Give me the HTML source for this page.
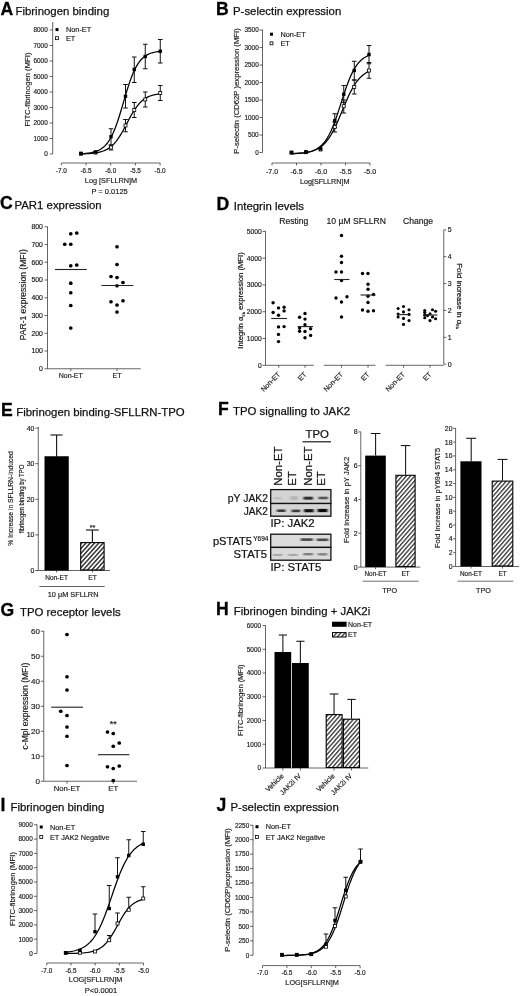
<!DOCTYPE html>
<html><head><meta charset="utf-8"><title>Figure</title><style>html,body{margin:0;padding:0;background:#fff}svg{display:block;filter:blur(0.4px)}</style></head><body>
<svg width="520" height="996" viewBox="0 0 520 996" font-family="Liberation Sans, Arial, sans-serif">
<defs><pattern id="hatch" width="3.2" height="3.2" patternUnits="userSpaceOnUse" patternTransform="rotate(-48)"><rect width="3.2" height="3.2" fill="#fff"/><line x1="0" y1="1.6" x2="3.2" y2="1.6" stroke="#000" stroke-width="1.2"/></pattern><pattern id="hatch2" width="3.15" height="3.15" patternUnits="userSpaceOnUse" patternTransform="rotate(-49)"><rect width="3.15" height="3.15" fill="#fff"/><line x1="0" y1="1.5" x2="3.15" y2="1.5" stroke="#000" stroke-width="1.05"/></pattern><filter id="blur" x="-20%" y="-50%" width="140%" height="200%"><feGaussianBlur stdDeviation="1.2 0.7"/></filter></defs>
<rect width="520" height="996" fill="#fff"/>
<text x="0.60" y="14.50" font-size="17.6" text-anchor="start" font-weight="bold" fill="#000" stroke="#000" stroke-width="0.3">A</text>
<text x="15.50" y="14.50" font-size="11.4" text-anchor="start" font-weight="normal" fill="#111" stroke="#111" stroke-width="0.25">Fibrinogen binding</text>
<line x1="52.70" y1="22.00" x2="52.70" y2="154.00" stroke="#333" stroke-width="0.75"/>
<line x1="49.70" y1="154.00" x2="52.70" y2="154.00" stroke="#333" stroke-width="0.75"/>
<text x="47.70" y="156.30" font-size="6.4" text-anchor="end" font-weight="normal" fill="#1a1a1a" stroke="#1a1a1a" stroke-width="0.17">0</text>
<line x1="49.70" y1="138.50" x2="52.70" y2="138.50" stroke="#333" stroke-width="0.75"/>
<text x="47.70" y="140.80" font-size="6.4" text-anchor="end" font-weight="normal" fill="#1a1a1a" stroke="#1a1a1a" stroke-width="0.17">1000</text>
<line x1="49.70" y1="123.00" x2="52.70" y2="123.00" stroke="#333" stroke-width="0.75"/>
<text x="47.70" y="125.30" font-size="6.4" text-anchor="end" font-weight="normal" fill="#1a1a1a" stroke="#1a1a1a" stroke-width="0.17">2000</text>
<line x1="49.70" y1="107.50" x2="52.70" y2="107.50" stroke="#333" stroke-width="0.75"/>
<text x="47.70" y="109.80" font-size="6.4" text-anchor="end" font-weight="normal" fill="#1a1a1a" stroke="#1a1a1a" stroke-width="0.17">3000</text>
<line x1="49.70" y1="92.00" x2="52.70" y2="92.00" stroke="#333" stroke-width="0.75"/>
<text x="47.70" y="94.30" font-size="6.4" text-anchor="end" font-weight="normal" fill="#1a1a1a" stroke="#1a1a1a" stroke-width="0.17">4000</text>
<line x1="49.70" y1="76.50" x2="52.70" y2="76.50" stroke="#333" stroke-width="0.75"/>
<text x="47.70" y="78.80" font-size="6.4" text-anchor="end" font-weight="normal" fill="#1a1a1a" stroke="#1a1a1a" stroke-width="0.17">5000</text>
<line x1="49.70" y1="61.00" x2="52.70" y2="61.00" stroke="#333" stroke-width="0.75"/>
<text x="47.70" y="63.30" font-size="6.4" text-anchor="end" font-weight="normal" fill="#1a1a1a" stroke="#1a1a1a" stroke-width="0.17">6000</text>
<line x1="49.70" y1="45.50" x2="52.70" y2="45.50" stroke="#333" stroke-width="0.75"/>
<text x="47.70" y="47.80" font-size="6.4" text-anchor="end" font-weight="normal" fill="#1a1a1a" stroke="#1a1a1a" stroke-width="0.17">7000</text>
<line x1="49.70" y1="30.00" x2="52.70" y2="30.00" stroke="#333" stroke-width="0.75"/>
<text x="47.70" y="32.30" font-size="6.4" text-anchor="end" font-weight="normal" fill="#1a1a1a" stroke="#1a1a1a" stroke-width="0.17">8000</text>
<line x1="61.30" y1="163.00" x2="160.10" y2="163.00" stroke="#333" stroke-width="0.75"/>
<line x1="61.30" y1="163.00" x2="61.30" y2="165.50" stroke="#333" stroke-width="0.75"/>
<text x="61.30" y="172.80" font-size="6.4" text-anchor="middle" font-weight="normal" fill="#1a1a1a" stroke="#1a1a1a" stroke-width="0.17">-7.0</text>
<line x1="86.00" y1="163.00" x2="86.00" y2="165.50" stroke="#333" stroke-width="0.75"/>
<text x="86.00" y="172.80" font-size="6.4" text-anchor="middle" font-weight="normal" fill="#1a1a1a" stroke="#1a1a1a" stroke-width="0.17">-6.5</text>
<line x1="110.70" y1="163.00" x2="110.70" y2="165.50" stroke="#333" stroke-width="0.75"/>
<text x="110.70" y="172.80" font-size="6.4" text-anchor="middle" font-weight="normal" fill="#1a1a1a" stroke="#1a1a1a" stroke-width="0.17">-6.0</text>
<line x1="135.40" y1="163.00" x2="135.40" y2="165.50" stroke="#333" stroke-width="0.75"/>
<text x="135.40" y="172.80" font-size="6.4" text-anchor="middle" font-weight="normal" fill="#1a1a1a" stroke="#1a1a1a" stroke-width="0.17">-5.5</text>
<line x1="160.10" y1="163.00" x2="160.10" y2="165.50" stroke="#333" stroke-width="0.75"/>
<text x="160.10" y="172.80" font-size="6.4" text-anchor="middle" font-weight="normal" fill="#1a1a1a" stroke="#1a1a1a" stroke-width="0.17">-5.0</text>
<text x="111.00" y="183.00" font-size="7.3" text-anchor="middle" font-weight="normal" fill="#1a1a1a" stroke="#1a1a1a" stroke-width="0.17">Log [SFLLRN]M</text>
<text x="109.60" y="194.00" font-size="7.5" text-anchor="middle" font-weight="normal" fill="#1a1a1a" stroke="#1a1a1a" stroke-width="0.17">P = 0.0125</text>
<text x="30.20" y="89.50" font-size="7.7" text-anchor="middle" font-weight="normal" fill="#1a1a1a" stroke="#1a1a1a" stroke-width="0.17" transform="rotate(-90 30.20 89.50)">FITC-fibrinogen (MFI)</text>
<path d="M81.00,153.63 L83.03,153.52 L85.06,153.37 L87.10,153.17 L89.13,152.92 L91.16,152.59 L93.19,152.17 L95.22,151.61 L97.26,150.89 L99.29,149.97 L101.32,148.79 L103.35,147.28 L105.38,145.38 L107.42,143.00 L109.45,140.06 L111.48,136.48 L113.51,132.20 L115.54,127.21 L117.58,121.53 L119.61,115.25 L121.64,108.54 L123.67,101.61 L125.71,94.69 L127.74,88.05 L129.77,81.87 L131.80,76.31 L133.83,71.45 L135.87,67.31 L137.90,63.86 L139.93,61.03 L141.96,58.74 L143.99,56.92 L146.03,55.48 L148.06,54.35 L150.09,53.47 L152.12,52.78 L154.15,52.25 L156.19,51.85 L158.22,51.53 L160.25,51.29" fill="none" stroke="#000" stroke-width="1.25" stroke-linejoin="round"/>
<path d="M81.00,153.90 L83.03,153.84 L85.06,153.77 L87.10,153.68 L89.13,153.55 L91.16,153.40 L93.19,153.20 L95.22,152.94 L97.26,152.62 L99.29,152.20 L101.32,151.68 L103.35,151.01 L105.38,150.17 L107.42,149.13 L109.45,147.84 L111.48,146.26 L113.51,144.35 L115.54,142.09 L117.58,139.44 L119.61,136.43 L121.64,133.07 L123.67,129.43 L125.71,125.61 L127.74,121.73 L129.77,117.89 L131.80,114.23 L133.83,110.84 L135.87,107.79 L137.90,105.10 L139.93,102.80 L141.96,100.85 L143.99,99.24 L146.03,97.92 L148.06,96.85 L150.09,95.99 L152.12,95.31 L154.15,94.77 L156.19,94.35 L158.22,94.01 L160.25,93.75" fill="none" stroke="#000" stroke-width="1.25" stroke-linejoin="round"/>
<line x1="111.00" y1="145.00" x2="111.00" y2="150.00" stroke="#111" stroke-width="1.0"/>
<line x1="108.70" y1="145.00" x2="113.30" y2="145.00" stroke="#111" stroke-width="1.0"/>
<line x1="108.70" y1="150.00" x2="113.30" y2="150.00" stroke="#111" stroke-width="1.0"/>
<line x1="125.50" y1="119.50" x2="125.50" y2="131.75" stroke="#111" stroke-width="1.0"/>
<line x1="123.20" y1="119.50" x2="127.80" y2="119.50" stroke="#111" stroke-width="1.0"/>
<line x1="123.20" y1="131.75" x2="127.80" y2="131.75" stroke="#111" stroke-width="1.0"/>
<line x1="134.25" y1="102.50" x2="134.25" y2="117.50" stroke="#111" stroke-width="1.0"/>
<line x1="131.95" y1="102.50" x2="136.55" y2="102.50" stroke="#111" stroke-width="1.0"/>
<line x1="131.95" y1="117.50" x2="136.55" y2="117.50" stroke="#111" stroke-width="1.0"/>
<line x1="145.25" y1="92.00" x2="145.25" y2="107.00" stroke="#111" stroke-width="1.0"/>
<line x1="142.95" y1="92.00" x2="147.55" y2="92.00" stroke="#111" stroke-width="1.0"/>
<line x1="142.95" y1="107.00" x2="147.55" y2="107.00" stroke="#111" stroke-width="1.0"/>
<line x1="160.25" y1="85.50" x2="160.25" y2="100.50" stroke="#111" stroke-width="1.0"/>
<line x1="157.95" y1="85.50" x2="162.55" y2="85.50" stroke="#111" stroke-width="1.0"/>
<line x1="157.95" y1="100.50" x2="162.55" y2="100.50" stroke="#111" stroke-width="1.0"/>
<line x1="111.00" y1="128.75" x2="111.00" y2="145.00" stroke="#111" stroke-width="1.0"/>
<line x1="108.70" y1="128.75" x2="113.30" y2="128.75" stroke="#111" stroke-width="1.0"/>
<line x1="108.70" y1="145.00" x2="113.30" y2="145.00" stroke="#111" stroke-width="1.0"/>
<line x1="125.50" y1="84.50" x2="125.50" y2="108.00" stroke="#111" stroke-width="1.0"/>
<line x1="123.20" y1="84.50" x2="127.80" y2="84.50" stroke="#111" stroke-width="1.0"/>
<line x1="123.20" y1="108.00" x2="127.80" y2="108.00" stroke="#111" stroke-width="1.0"/>
<line x1="134.25" y1="57.00" x2="134.25" y2="82.50" stroke="#111" stroke-width="1.0"/>
<line x1="131.95" y1="57.00" x2="136.55" y2="57.00" stroke="#111" stroke-width="1.0"/>
<line x1="131.95" y1="82.50" x2="136.55" y2="82.50" stroke="#111" stroke-width="1.0"/>
<line x1="145.25" y1="44.25" x2="145.25" y2="68.75" stroke="#111" stroke-width="1.0"/>
<line x1="142.95" y1="44.25" x2="147.55" y2="44.25" stroke="#111" stroke-width="1.0"/>
<line x1="142.95" y1="68.75" x2="147.55" y2="68.75" stroke="#111" stroke-width="1.0"/>
<line x1="160.25" y1="39.50" x2="160.25" y2="63.00" stroke="#111" stroke-width="1.0"/>
<line x1="157.95" y1="39.50" x2="162.55" y2="39.50" stroke="#111" stroke-width="1.0"/>
<line x1="157.95" y1="63.00" x2="162.55" y2="63.00" stroke="#111" stroke-width="1.0"/>
<rect x="79.50" y="152.20" width="3.00" height="3.00" fill="#fff" stroke="#000" stroke-width="0.8"/>
<rect x="94.00" y="151.10" width="3.00" height="3.00" fill="#fff" stroke="#000" stroke-width="0.8"/>
<rect x="109.50" y="146.00" width="3.00" height="3.00" fill="#fff" stroke="#000" stroke-width="0.8"/>
<rect x="124.00" y="124.00" width="3.00" height="3.00" fill="#fff" stroke="#000" stroke-width="0.8"/>
<rect x="132.75" y="108.50" width="3.00" height="3.00" fill="#fff" stroke="#000" stroke-width="0.8"/>
<rect x="143.75" y="98.00" width="3.00" height="3.00" fill="#fff" stroke="#000" stroke-width="0.8"/>
<rect x="158.75" y="91.50" width="3.00" height="3.00" fill="#fff" stroke="#000" stroke-width="0.8"/>
<rect x="79.30" y="151.80" width="3.40" height="3.40" fill="#000" stroke="none" stroke-width="0.8"/>
<rect x="93.80" y="150.30" width="3.40" height="3.40" fill="#000" stroke="none" stroke-width="0.8"/>
<rect x="109.30" y="135.05" width="3.40" height="3.40" fill="#000" stroke="none" stroke-width="0.8"/>
<rect x="123.80" y="94.55" width="3.40" height="3.40" fill="#000" stroke="none" stroke-width="0.8"/>
<rect x="132.55" y="67.80" width="3.40" height="3.40" fill="#000" stroke="none" stroke-width="0.8"/>
<rect x="143.55" y="54.80" width="3.40" height="3.40" fill="#000" stroke="none" stroke-width="0.8"/>
<rect x="158.55" y="49.55" width="3.40" height="3.40" fill="#000" stroke="none" stroke-width="0.8"/>
<rect x="55.50" y="28.10" width="3.00" height="3.00" fill="#000" stroke="none" stroke-width="0.8"/>
<text x="66.00" y="32.10" font-size="7.3" text-anchor="start" font-weight="normal" fill="#1a1a1a" stroke="#1a1a1a" stroke-width="0.17">Non-ET</text>
<rect x="55.55" y="36.75" width="2.90" height="2.90" fill="#fff" stroke="#000" stroke-width="0.8"/>
<text x="66.00" y="40.70" font-size="7.3" text-anchor="start" font-weight="normal" fill="#1a1a1a" stroke="#1a1a1a" stroke-width="0.17">ET</text>
<text x="216.10" y="14.50" font-size="17.6" text-anchor="start" font-weight="bold" fill="#000" stroke="#000" stroke-width="0.3">B</text>
<text x="233.00" y="14.50" font-size="11.4" text-anchor="start" font-weight="normal" fill="#111" stroke="#111" stroke-width="0.25">P-selectin expression</text>
<line x1="262.50" y1="29.70" x2="262.50" y2="152.50" stroke="#333" stroke-width="0.75"/>
<line x1="259.50" y1="152.50" x2="262.50" y2="152.50" stroke="#333" stroke-width="0.75"/>
<text x="258.70" y="154.80" font-size="6.4" text-anchor="end" font-weight="normal" fill="#1a1a1a" stroke="#1a1a1a" stroke-width="0.17">0</text>
<line x1="259.50" y1="135.00" x2="262.50" y2="135.00" stroke="#333" stroke-width="0.75"/>
<text x="258.70" y="137.30" font-size="6.4" text-anchor="end" font-weight="normal" fill="#1a1a1a" stroke="#1a1a1a" stroke-width="0.17">500</text>
<line x1="259.50" y1="117.50" x2="262.50" y2="117.50" stroke="#333" stroke-width="0.75"/>
<text x="258.70" y="119.80" font-size="6.4" text-anchor="end" font-weight="normal" fill="#1a1a1a" stroke="#1a1a1a" stroke-width="0.17">1000</text>
<line x1="259.50" y1="100.00" x2="262.50" y2="100.00" stroke="#333" stroke-width="0.75"/>
<text x="258.70" y="102.30" font-size="6.4" text-anchor="end" font-weight="normal" fill="#1a1a1a" stroke="#1a1a1a" stroke-width="0.17">1500</text>
<line x1="259.50" y1="82.50" x2="262.50" y2="82.50" stroke="#333" stroke-width="0.75"/>
<text x="258.70" y="84.80" font-size="6.4" text-anchor="end" font-weight="normal" fill="#1a1a1a" stroke="#1a1a1a" stroke-width="0.17">2000</text>
<line x1="259.50" y1="65.00" x2="262.50" y2="65.00" stroke="#333" stroke-width="0.75"/>
<text x="258.70" y="67.30" font-size="6.4" text-anchor="end" font-weight="normal" fill="#1a1a1a" stroke="#1a1a1a" stroke-width="0.17">2500</text>
<line x1="259.50" y1="47.50" x2="262.50" y2="47.50" stroke="#333" stroke-width="0.75"/>
<text x="258.70" y="49.80" font-size="6.4" text-anchor="end" font-weight="normal" fill="#1a1a1a" stroke="#1a1a1a" stroke-width="0.17">3000</text>
<line x1="259.50" y1="30.00" x2="262.50" y2="30.00" stroke="#333" stroke-width="0.75"/>
<text x="258.70" y="32.30" font-size="6.4" text-anchor="end" font-weight="normal" fill="#1a1a1a" stroke="#1a1a1a" stroke-width="0.17">3500</text>
<line x1="272.00" y1="163.00" x2="370.00" y2="163.00" stroke="#333" stroke-width="0.75"/>
<line x1="272.00" y1="163.00" x2="272.00" y2="165.50" stroke="#333" stroke-width="0.75"/>
<text x="272.00" y="173.90" font-size="7.0" text-anchor="middle" font-weight="normal" fill="#1a1a1a" stroke="#1a1a1a" stroke-width="0.17">-7.0</text>
<line x1="296.50" y1="163.00" x2="296.50" y2="165.50" stroke="#333" stroke-width="0.75"/>
<text x="296.50" y="173.90" font-size="7.0" text-anchor="middle" font-weight="normal" fill="#1a1a1a" stroke="#1a1a1a" stroke-width="0.17">-6.5</text>
<line x1="321.00" y1="163.00" x2="321.00" y2="165.50" stroke="#333" stroke-width="0.75"/>
<text x="321.00" y="173.90" font-size="7.0" text-anchor="middle" font-weight="normal" fill="#1a1a1a" stroke="#1a1a1a" stroke-width="0.17">-6.0</text>
<line x1="345.50" y1="163.00" x2="345.50" y2="165.50" stroke="#333" stroke-width="0.75"/>
<text x="345.50" y="173.90" font-size="7.0" text-anchor="middle" font-weight="normal" fill="#1a1a1a" stroke="#1a1a1a" stroke-width="0.17">-5.5</text>
<line x1="370.00" y1="163.00" x2="370.00" y2="165.50" stroke="#333" stroke-width="0.75"/>
<text x="370.00" y="173.90" font-size="7.0" text-anchor="middle" font-weight="normal" fill="#1a1a1a" stroke="#1a1a1a" stroke-width="0.17">-5.0</text>
<text x="324.70" y="183.90" font-size="7.2" text-anchor="middle" font-weight="normal" fill="#1a1a1a" stroke="#1a1a1a" stroke-width="0.17">Log[SFLLRN]M</text>
<text x="239.30" y="91.00" font-size="7.7" text-anchor="middle" font-weight="normal" fill="#1a1a1a" stroke="#1a1a1a" stroke-width="0.17" transform="rotate(-90 239.30 91.00)">P-selectin (CD62P )expression (MFI)</text>
<path d="M291.50,153.61 L293.49,153.54 L295.47,153.46 L297.46,153.36 L299.45,153.23 L301.44,153.06 L303.42,152.85 L305.41,152.58 L307.40,152.23 L309.38,151.80 L311.37,151.25 L313.36,150.56 L315.35,149.69 L317.33,148.60 L319.32,147.25 L321.31,145.57 L323.29,143.52 L325.28,141.03 L327.27,138.05 L329.26,134.52 L331.24,130.41 L333.23,125.73 L335.22,120.52 L337.21,114.85 L339.19,108.84 L341.18,102.67 L343.17,96.51 L345.15,90.54 L347.14,84.91 L349.13,79.74 L351.12,75.12 L353.10,71.07 L355.09,67.60 L357.08,64.67 L359.06,62.23 L361.05,60.22 L363.04,58.58 L365.03,57.26 L367.01,56.19 L369.00,55.34" fill="none" stroke="#000" stroke-width="1.25" stroke-linejoin="round"/>
<path d="M291.50,153.75 L293.49,153.68 L295.47,153.59 L297.46,153.47 L299.45,153.33 L301.44,153.15 L303.42,152.93 L305.41,152.66 L307.40,152.32 L309.38,151.90 L311.37,151.39 L313.36,150.75 L315.35,149.97 L317.33,149.01 L319.32,147.85 L321.31,146.45 L323.29,144.76 L325.28,142.76 L327.27,140.39 L329.26,137.64 L331.24,134.49 L333.23,130.92 L335.22,126.97 L337.21,122.67 L339.19,118.11 L341.18,113.36 L343.17,108.55 L345.15,103.78 L347.14,99.18 L349.13,94.84 L351.12,90.83 L353.10,87.20 L355.09,83.98 L357.08,81.16 L359.06,78.74 L361.05,76.68 L363.04,74.95 L365.03,73.50 L367.01,72.31 L369.00,71.32" fill="none" stroke="#000" stroke-width="1.25" stroke-linejoin="round"/>
<line x1="334.75" y1="122.00" x2="334.75" y2="132.00" stroke="#111" stroke-width="1.0"/>
<line x1="332.45" y1="122.00" x2="337.05" y2="122.00" stroke="#111" stroke-width="1.0"/>
<line x1="332.45" y1="132.00" x2="337.05" y2="132.00" stroke="#111" stroke-width="1.0"/>
<line x1="343.75" y1="100.00" x2="343.75" y2="113.00" stroke="#111" stroke-width="1.0"/>
<line x1="341.45" y1="100.00" x2="346.05" y2="100.00" stroke="#111" stroke-width="1.0"/>
<line x1="341.45" y1="113.00" x2="346.05" y2="113.00" stroke="#111" stroke-width="1.0"/>
<line x1="354.25" y1="80.00" x2="354.25" y2="94.00" stroke="#111" stroke-width="1.0"/>
<line x1="351.95" y1="80.00" x2="356.55" y2="80.00" stroke="#111" stroke-width="1.0"/>
<line x1="351.95" y1="94.00" x2="356.55" y2="94.00" stroke="#111" stroke-width="1.0"/>
<line x1="369.00" y1="62.50" x2="369.00" y2="78.25" stroke="#111" stroke-width="1.0"/>
<line x1="366.70" y1="62.50" x2="371.30" y2="62.50" stroke="#111" stroke-width="1.0"/>
<line x1="366.70" y1="78.25" x2="371.30" y2="78.25" stroke="#111" stroke-width="1.0"/>
<line x1="334.75" y1="113.75" x2="334.75" y2="127.50" stroke="#111" stroke-width="1.0"/>
<line x1="332.45" y1="113.75" x2="337.05" y2="113.75" stroke="#111" stroke-width="1.0"/>
<line x1="332.45" y1="127.50" x2="337.05" y2="127.50" stroke="#111" stroke-width="1.0"/>
<line x1="343.75" y1="85.50" x2="343.75" y2="102.50" stroke="#111" stroke-width="1.0"/>
<line x1="341.45" y1="85.50" x2="346.05" y2="85.50" stroke="#111" stroke-width="1.0"/>
<line x1="341.45" y1="102.50" x2="346.05" y2="102.50" stroke="#111" stroke-width="1.0"/>
<line x1="354.25" y1="61.25" x2="354.25" y2="80.00" stroke="#111" stroke-width="1.0"/>
<line x1="351.95" y1="61.25" x2="356.55" y2="61.25" stroke="#111" stroke-width="1.0"/>
<line x1="351.95" y1="80.00" x2="356.55" y2="80.00" stroke="#111" stroke-width="1.0"/>
<line x1="369.00" y1="45.50" x2="369.00" y2="63.75" stroke="#111" stroke-width="1.0"/>
<line x1="366.70" y1="45.50" x2="371.30" y2="45.50" stroke="#111" stroke-width="1.0"/>
<line x1="366.70" y1="63.75" x2="371.30" y2="63.75" stroke="#111" stroke-width="1.0"/>
<rect x="290.00" y="151.10" width="3.00" height="3.00" fill="#fff" stroke="#000" stroke-width="0.8"/>
<rect x="304.50" y="150.70" width="3.00" height="3.00" fill="#fff" stroke="#000" stroke-width="0.8"/>
<rect x="319.00" y="148.00" width="3.00" height="3.00" fill="#fff" stroke="#000" stroke-width="0.8"/>
<rect x="333.25" y="125.50" width="3.00" height="3.00" fill="#fff" stroke="#000" stroke-width="0.8"/>
<rect x="342.25" y="104.75" width="3.00" height="3.00" fill="#fff" stroke="#000" stroke-width="0.8"/>
<rect x="352.75" y="85.50" width="3.00" height="3.00" fill="#fff" stroke="#000" stroke-width="0.8"/>
<rect x="367.50" y="69.00" width="3.00" height="3.00" fill="#fff" stroke="#000" stroke-width="0.8"/>
<rect x="289.80" y="150.80" width="3.40" height="3.40" fill="#000" stroke="none" stroke-width="0.8"/>
<rect x="304.30" y="150.30" width="3.40" height="3.40" fill="#000" stroke="none" stroke-width="0.8"/>
<rect x="318.80" y="147.05" width="3.40" height="3.40" fill="#000" stroke="none" stroke-width="0.8"/>
<rect x="333.05" y="119.05" width="3.40" height="3.40" fill="#000" stroke="none" stroke-width="0.8"/>
<rect x="342.05" y="92.55" width="3.40" height="3.40" fill="#000" stroke="none" stroke-width="0.8"/>
<rect x="352.55" y="68.80" width="3.40" height="3.40" fill="#000" stroke="none" stroke-width="0.8"/>
<rect x="367.30" y="52.80" width="3.40" height="3.40" fill="#000" stroke="none" stroke-width="0.8"/>
<rect x="270.00" y="32.70" width="3.00" height="3.00" fill="#000" stroke="none" stroke-width="0.8"/>
<text x="280.50" y="36.70" font-size="7.3" text-anchor="start" font-weight="normal" fill="#1a1a1a" stroke="#1a1a1a" stroke-width="0.17">Non-ET</text>
<rect x="270.05" y="41.85" width="2.90" height="2.90" fill="#fff" stroke="#000" stroke-width="0.8"/>
<text x="280.50" y="45.80" font-size="7.3" text-anchor="start" font-weight="normal" fill="#1a1a1a" stroke="#1a1a1a" stroke-width="0.17">ET</text>
<text x="0.10" y="209.20" font-size="17.6" text-anchor="start" font-weight="bold" fill="#000" stroke="#000" stroke-width="0.3">C</text>
<text x="14.50" y="209.20" font-size="11.4" text-anchor="start" font-weight="normal" fill="#111" stroke="#111" stroke-width="0.25">PAR1 expression</text>
<line x1="47.50" y1="226.50" x2="47.50" y2="368.75" stroke="#333" stroke-width="0.75"/>
<line x1="44.50" y1="368.75" x2="47.50" y2="368.75" stroke="#333" stroke-width="0.75"/>
<text x="42.90" y="371.23" font-size="6.9" text-anchor="end" font-weight="normal" fill="#1a1a1a" stroke="#1a1a1a" stroke-width="0.17">0</text>
<line x1="44.50" y1="351.00" x2="47.50" y2="351.00" stroke="#333" stroke-width="0.75"/>
<text x="42.90" y="353.48" font-size="6.9" text-anchor="end" font-weight="normal" fill="#1a1a1a" stroke="#1a1a1a" stroke-width="0.17">100</text>
<line x1="44.50" y1="333.25" x2="47.50" y2="333.25" stroke="#333" stroke-width="0.75"/>
<text x="42.90" y="335.73" font-size="6.9" text-anchor="end" font-weight="normal" fill="#1a1a1a" stroke="#1a1a1a" stroke-width="0.17">200</text>
<line x1="44.50" y1="315.50" x2="47.50" y2="315.50" stroke="#333" stroke-width="0.75"/>
<text x="42.90" y="317.98" font-size="6.9" text-anchor="end" font-weight="normal" fill="#1a1a1a" stroke="#1a1a1a" stroke-width="0.17">300</text>
<line x1="44.50" y1="297.75" x2="47.50" y2="297.75" stroke="#333" stroke-width="0.75"/>
<text x="42.90" y="300.23" font-size="6.9" text-anchor="end" font-weight="normal" fill="#1a1a1a" stroke="#1a1a1a" stroke-width="0.17">400</text>
<line x1="44.50" y1="280.00" x2="47.50" y2="280.00" stroke="#333" stroke-width="0.75"/>
<text x="42.90" y="282.48" font-size="6.9" text-anchor="end" font-weight="normal" fill="#1a1a1a" stroke="#1a1a1a" stroke-width="0.17">500</text>
<line x1="44.50" y1="262.25" x2="47.50" y2="262.25" stroke="#333" stroke-width="0.75"/>
<text x="42.90" y="264.73" font-size="6.9" text-anchor="end" font-weight="normal" fill="#1a1a1a" stroke="#1a1a1a" stroke-width="0.17">600</text>
<line x1="44.50" y1="244.50" x2="47.50" y2="244.50" stroke="#333" stroke-width="0.75"/>
<text x="42.90" y="246.98" font-size="6.9" text-anchor="end" font-weight="normal" fill="#1a1a1a" stroke="#1a1a1a" stroke-width="0.17">700</text>
<line x1="44.50" y1="226.75" x2="47.50" y2="226.75" stroke="#333" stroke-width="0.75"/>
<text x="42.90" y="229.23" font-size="6.9" text-anchor="end" font-weight="normal" fill="#1a1a1a" stroke="#1a1a1a" stroke-width="0.17">800</text>
<line x1="47.50" y1="368.75" x2="140.75" y2="368.75" stroke="#333" stroke-width="0.75"/>
<line x1="70.75" y1="368.75" x2="70.75" y2="371.20" stroke="#333" stroke-width="0.75"/>
<text x="70.75" y="378.40" font-size="7.0" text-anchor="middle" font-weight="normal" fill="#1a1a1a" stroke="#1a1a1a" stroke-width="0.17">Non-ET</text>
<line x1="117.00" y1="368.75" x2="117.00" y2="371.20" stroke="#333" stroke-width="0.75"/>
<text x="117.00" y="378.40" font-size="7.0" text-anchor="middle" font-weight="normal" fill="#1a1a1a" stroke="#1a1a1a" stroke-width="0.17">ET</text>
<text x="26.30" y="294.80" font-size="8.55" text-anchor="middle" font-weight="normal" fill="#1a1a1a" stroke="#1a1a1a" stroke-width="0.17" transform="rotate(-90 26.30 294.80)">PAR-1 expression (MFI)</text>
<circle cx="70.75" cy="233.75" r="1.85" fill="#000"/>
<circle cx="76.75" cy="233.00" r="1.85" fill="#000"/>
<circle cx="64.75" cy="244.25" r="1.85" fill="#000"/>
<circle cx="70.75" cy="244.25" r="1.85" fill="#000"/>
<circle cx="70.75" cy="265.75" r="1.85" fill="#000"/>
<circle cx="76.75" cy="265.00" r="1.85" fill="#000"/>
<circle cx="70.75" cy="283.20" r="1.85" fill="#000"/>
<circle cx="70.75" cy="292.75" r="1.85" fill="#000"/>
<circle cx="70.75" cy="305.50" r="1.85" fill="#000"/>
<circle cx="70.75" cy="328.00" r="1.85" fill="#000"/>
<circle cx="117.00" cy="246.75" r="1.85" fill="#000"/>
<circle cx="117.00" cy="264.50" r="1.85" fill="#000"/>
<circle cx="111.00" cy="276.50" r="1.85" fill="#000"/>
<circle cx="117.00" cy="277.50" r="1.85" fill="#000"/>
<circle cx="123.00" cy="282.50" r="1.85" fill="#000"/>
<circle cx="117.00" cy="285.75" r="1.85" fill="#000"/>
<circle cx="111.00" cy="301.75" r="1.85" fill="#000"/>
<circle cx="123.00" cy="300.75" r="1.85" fill="#000"/>
<circle cx="117.00" cy="305.00" r="1.85" fill="#000"/>
<circle cx="117.00" cy="312.00" r="1.85" fill="#000"/>
<line x1="55.00" y1="269.50" x2="86.75" y2="269.50" stroke="#222" stroke-width="1.1"/>
<line x1="101.50" y1="285.50" x2="133.25" y2="285.50" stroke="#222" stroke-width="1.1"/>
<text x="216.60" y="209.60" font-size="17.6" text-anchor="start" font-weight="bold" fill="#000" stroke="#000" stroke-width="0.3">D</text>
<text x="233.75" y="209.60" font-size="11.4" text-anchor="start" font-weight="normal" fill="#111" stroke="#111" stroke-width="0.25">Integrin levels</text>
<line x1="265.50" y1="231.00" x2="265.50" y2="365.30" stroke="#333" stroke-width="0.75"/>
<line x1="262.50" y1="365.30" x2="265.50" y2="365.30" stroke="#333" stroke-width="0.75"/>
<text x="261.70" y="367.71" font-size="6.7" text-anchor="end" font-weight="normal" fill="#1a1a1a" stroke="#1a1a1a" stroke-width="0.17">0</text>
<line x1="262.50" y1="338.52" x2="265.50" y2="338.52" stroke="#333" stroke-width="0.75"/>
<text x="261.70" y="340.93" font-size="6.7" text-anchor="end" font-weight="normal" fill="#1a1a1a" stroke="#1a1a1a" stroke-width="0.17">1000</text>
<line x1="262.50" y1="311.74" x2="265.50" y2="311.74" stroke="#333" stroke-width="0.75"/>
<text x="261.70" y="314.15" font-size="6.7" text-anchor="end" font-weight="normal" fill="#1a1a1a" stroke="#1a1a1a" stroke-width="0.17">2000</text>
<line x1="262.50" y1="284.96" x2="265.50" y2="284.96" stroke="#333" stroke-width="0.75"/>
<text x="261.70" y="287.37" font-size="6.7" text-anchor="end" font-weight="normal" fill="#1a1a1a" stroke="#1a1a1a" stroke-width="0.17">3000</text>
<line x1="262.50" y1="258.18" x2="265.50" y2="258.18" stroke="#333" stroke-width="0.75"/>
<text x="261.70" y="260.59" font-size="6.7" text-anchor="end" font-weight="normal" fill="#1a1a1a" stroke="#1a1a1a" stroke-width="0.17">4000</text>
<line x1="262.50" y1="231.40" x2="265.50" y2="231.40" stroke="#333" stroke-width="0.75"/>
<text x="261.70" y="233.81" font-size="6.7" text-anchor="end" font-weight="normal" fill="#1a1a1a" stroke="#1a1a1a" stroke-width="0.17">5000</text>
<line x1="443.75" y1="229.80" x2="443.75" y2="364.20" stroke="#333" stroke-width="0.75"/>
<line x1="443.75" y1="364.20" x2="446.25" y2="364.20" stroke="#333" stroke-width="0.75"/>
<text x="447.75" y="366.72" font-size="7.0" text-anchor="start" font-weight="normal" fill="#1a1a1a" stroke="#1a1a1a" stroke-width="0.17">0</text>
<line x1="443.75" y1="337.32" x2="446.25" y2="337.32" stroke="#333" stroke-width="0.75"/>
<text x="447.75" y="339.84" font-size="7.0" text-anchor="start" font-weight="normal" fill="#1a1a1a" stroke="#1a1a1a" stroke-width="0.17">1</text>
<line x1="443.75" y1="310.44" x2="446.25" y2="310.44" stroke="#333" stroke-width="0.75"/>
<text x="447.75" y="312.96" font-size="7.0" text-anchor="start" font-weight="normal" fill="#1a1a1a" stroke="#1a1a1a" stroke-width="0.17">2</text>
<line x1="443.75" y1="283.56" x2="446.25" y2="283.56" stroke="#333" stroke-width="0.75"/>
<text x="447.75" y="286.08" font-size="7.0" text-anchor="start" font-weight="normal" fill="#1a1a1a" stroke="#1a1a1a" stroke-width="0.17">3</text>
<line x1="443.75" y1="256.68" x2="446.25" y2="256.68" stroke="#333" stroke-width="0.75"/>
<text x="447.75" y="259.20" font-size="7.0" text-anchor="start" font-weight="normal" fill="#1a1a1a" stroke="#1a1a1a" stroke-width="0.17">4</text>
<line x1="443.75" y1="229.80" x2="446.25" y2="229.80" stroke="#333" stroke-width="0.75"/>
<text x="447.75" y="232.32" font-size="7.0" text-anchor="start" font-weight="normal" fill="#1a1a1a" stroke="#1a1a1a" stroke-width="0.17">5</text>
<line x1="265.50" y1="365.30" x2="313.75" y2="365.30" stroke="#333" stroke-width="0.75"/>
<line x1="323.75" y1="365.30" x2="375.50" y2="365.30" stroke="#333" stroke-width="0.75"/>
<line x1="385.50" y1="365.30" x2="443.75" y2="365.30" stroke="#333" stroke-width="0.75"/>
<line x1="278.75" y1="365.30" x2="278.75" y2="367.80" stroke="#333" stroke-width="0.75"/>
<text x="280.75" y="374.90" font-size="7.0" text-anchor="end" font-weight="normal" fill="#1a1a1a" stroke="#1a1a1a" stroke-width="0.17" transform="rotate(-45 280.75 374.90)">Non-ET</text>
<line x1="305.00" y1="365.30" x2="305.00" y2="367.80" stroke="#333" stroke-width="0.75"/>
<text x="307.00" y="374.90" font-size="7.0" text-anchor="end" font-weight="normal" fill="#1a1a1a" stroke="#1a1a1a" stroke-width="0.17" transform="rotate(-45 307.00 374.90)">ET</text>
<line x1="341.50" y1="365.30" x2="341.50" y2="367.80" stroke="#333" stroke-width="0.75"/>
<text x="343.50" y="374.90" font-size="7.0" text-anchor="end" font-weight="normal" fill="#1a1a1a" stroke="#1a1a1a" stroke-width="0.17" transform="rotate(-45 343.50 374.90)">Non-ET</text>
<line x1="368.00" y1="365.30" x2="368.00" y2="367.80" stroke="#333" stroke-width="0.75"/>
<text x="370.00" y="374.90" font-size="7.0" text-anchor="end" font-weight="normal" fill="#1a1a1a" stroke="#1a1a1a" stroke-width="0.17" transform="rotate(-45 370.00 374.90)">ET</text>
<line x1="403.50" y1="365.30" x2="403.50" y2="367.80" stroke="#333" stroke-width="0.75"/>
<text x="405.50" y="374.90" font-size="7.0" text-anchor="end" font-weight="normal" fill="#1a1a1a" stroke="#1a1a1a" stroke-width="0.17" transform="rotate(-45 405.50 374.90)">Non-ET</text>
<line x1="430.00" y1="365.30" x2="430.00" y2="367.80" stroke="#333" stroke-width="0.75"/>
<text x="432.00" y="374.90" font-size="7.0" text-anchor="end" font-weight="normal" fill="#1a1a1a" stroke="#1a1a1a" stroke-width="0.17" transform="rotate(-45 432.00 374.90)">ET</text>
<text x="293.75" y="223.60" font-size="8.6" text-anchor="middle" font-weight="normal" fill="#1a1a1a" stroke="#1a1a1a" stroke-width="0.17">Resting</text>
<text x="356.25" y="223.60" font-size="8.6" text-anchor="middle" font-weight="normal" fill="#1a1a1a" stroke="#1a1a1a" stroke-width="0.17">10 µM SFLLRN</text>
<text x="418.00" y="223.60" font-size="8.6" text-anchor="middle" font-weight="normal" fill="#1a1a1a" stroke="#1a1a1a" stroke-width="0.17">Change</text>
<text x="243" y="300.5" font-size="7.7" text-anchor="middle" fill="#1a1a1a" stroke="#000" stroke-width="0.2" transform="rotate(-90 243 300.5)">Integrin α<tspan font-size="4" dy="1.5">IIb</tspan><tspan dy="-1.5"> expression (MFI)</tspan></text>
<text x="457" y="296" font-size="7.7" text-anchor="middle" fill="#1a1a1a" stroke="#000" stroke-width="0.2" transform="rotate(90 457 296)">Fold increase in α<tspan font-size="4" dy="1.5">IIb</tspan></text>
<circle cx="273.10" cy="302.75" r="1.7" fill="#000"/>
<circle cx="278.50" cy="307.90" r="1.7" fill="#000"/>
<circle cx="284.10" cy="307.25" r="1.7" fill="#000"/>
<circle cx="284.10" cy="310.90" r="1.7" fill="#000"/>
<circle cx="273.10" cy="312.50" r="1.7" fill="#000"/>
<circle cx="278.50" cy="315.25" r="1.7" fill="#000"/>
<circle cx="278.50" cy="326.90" r="1.7" fill="#000"/>
<circle cx="284.10" cy="326.60" r="1.7" fill="#000"/>
<circle cx="278.50" cy="334.40" r="1.7" fill="#000"/>
<circle cx="278.50" cy="341.60" r="1.7" fill="#000"/>
<circle cx="305.00" cy="313.50" r="1.7" fill="#000"/>
<circle cx="299.60" cy="317.25" r="1.7" fill="#000"/>
<circle cx="305.00" cy="319.10" r="1.7" fill="#000"/>
<circle cx="305.00" cy="324.75" r="1.7" fill="#000"/>
<circle cx="299.60" cy="328.10" r="1.7" fill="#000"/>
<circle cx="310.60" cy="328.75" r="1.7" fill="#000"/>
<circle cx="299.60" cy="331.25" r="1.7" fill="#000"/>
<circle cx="305.00" cy="331.50" r="1.7" fill="#000"/>
<circle cx="310.60" cy="335.40" r="1.7" fill="#000"/>
<circle cx="305.00" cy="337.75" r="1.7" fill="#000"/>
<circle cx="341.50" cy="235.50" r="1.7" fill="#000"/>
<circle cx="341.50" cy="256.25" r="1.7" fill="#000"/>
<circle cx="341.50" cy="262.50" r="1.7" fill="#000"/>
<circle cx="336.00" cy="272.00" r="1.7" fill="#000"/>
<circle cx="341.50" cy="272.00" r="1.7" fill="#000"/>
<circle cx="341.50" cy="280.50" r="1.7" fill="#000"/>
<circle cx="336.00" cy="298.00" r="1.7" fill="#000"/>
<circle cx="347.00" cy="296.75" r="1.7" fill="#000"/>
<circle cx="341.50" cy="302.00" r="1.7" fill="#000"/>
<circle cx="341.50" cy="317.00" r="1.7" fill="#000"/>
<circle cx="362.50" cy="273.50" r="1.7" fill="#000"/>
<circle cx="368.00" cy="273.50" r="1.7" fill="#000"/>
<circle cx="368.00" cy="284.25" r="1.7" fill="#000"/>
<circle cx="368.00" cy="289.25" r="1.7" fill="#000"/>
<circle cx="373.50" cy="294.50" r="1.7" fill="#000"/>
<circle cx="368.00" cy="296.25" r="1.7" fill="#000"/>
<circle cx="368.00" cy="302.50" r="1.7" fill="#000"/>
<circle cx="362.50" cy="310.00" r="1.7" fill="#000"/>
<circle cx="368.00" cy="311.25" r="1.7" fill="#000"/>
<circle cx="373.50" cy="310.75" r="1.7" fill="#000"/>
<circle cx="403.50" cy="306.50" r="1.55" fill="#000"/>
<circle cx="398.10" cy="308.50" r="1.55" fill="#000"/>
<circle cx="409.00" cy="309.75" r="1.55" fill="#000"/>
<circle cx="403.50" cy="311.90" r="1.55" fill="#000"/>
<circle cx="398.10" cy="314.00" r="1.55" fill="#000"/>
<circle cx="409.00" cy="314.40" r="1.55" fill="#000"/>
<circle cx="398.10" cy="316.90" r="1.55" fill="#000"/>
<circle cx="403.50" cy="318.40" r="1.55" fill="#000"/>
<circle cx="409.00" cy="320.60" r="1.55" fill="#000"/>
<circle cx="403.50" cy="324.40" r="1.55" fill="#000"/>
<circle cx="432.50" cy="309.75" r="1.55" fill="#000"/>
<circle cx="424.75" cy="310.60" r="1.55" fill="#000"/>
<circle cx="435.60" cy="311.25" r="1.55" fill="#000"/>
<circle cx="424.75" cy="312.50" r="1.55" fill="#000"/>
<circle cx="430.00" cy="313.75" r="1.55" fill="#000"/>
<circle cx="424.75" cy="315.00" r="1.55" fill="#000"/>
<circle cx="427.50" cy="315.60" r="1.55" fill="#000"/>
<circle cx="432.50" cy="316.90" r="1.55" fill="#000"/>
<circle cx="424.75" cy="317.75" r="1.55" fill="#000"/>
<circle cx="435.60" cy="318.75" r="1.55" fill="#000"/>
<circle cx="430.00" cy="320.60" r="1.55" fill="#000"/>
<line x1="271.25" y1="318.50" x2="287.00" y2="318.50" stroke="#222" stroke-width="1.1"/>
<line x1="297.50" y1="326.60" x2="313.00" y2="326.60" stroke="#222" stroke-width="1.1"/>
<line x1="334.25" y1="279.50" x2="349.50" y2="279.50" stroke="#222" stroke-width="1.1"/>
<line x1="360.50" y1="295.00" x2="375.50" y2="295.00" stroke="#222" stroke-width="1.1"/>
<line x1="396.90" y1="314.60" x2="410.60" y2="314.60" stroke="#222" stroke-width="1.1"/>
<line x1="423.00" y1="315.00" x2="437.50" y2="315.00" stroke="#222" stroke-width="1.1"/>
<text x="1.10" y="416.30" font-size="17.6" text-anchor="start" font-weight="bold" fill="#000" stroke="#000" stroke-width="0.3">E</text>
<text x="16.25" y="416.30" font-size="11.4" text-anchor="start" font-weight="normal" fill="#111" stroke="#111" stroke-width="0.25">Fibrinogen binding-SFLLRN-TPO</text>
<line x1="38.25" y1="427.00" x2="38.25" y2="570.50" stroke="#333" stroke-width="0.75"/>
<line x1="35.25" y1="570.50" x2="38.25" y2="570.50" stroke="#333" stroke-width="0.75"/>
<text x="34.45" y="572.98" font-size="6.9" text-anchor="end" font-weight="normal" fill="#1a1a1a" stroke="#1a1a1a" stroke-width="0.17">0</text>
<line x1="35.25" y1="534.90" x2="38.25" y2="534.90" stroke="#333" stroke-width="0.75"/>
<text x="34.45" y="537.38" font-size="6.9" text-anchor="end" font-weight="normal" fill="#1a1a1a" stroke="#1a1a1a" stroke-width="0.17">10</text>
<line x1="35.25" y1="499.30" x2="38.25" y2="499.30" stroke="#333" stroke-width="0.75"/>
<text x="34.45" y="501.78" font-size="6.9" text-anchor="end" font-weight="normal" fill="#1a1a1a" stroke="#1a1a1a" stroke-width="0.17">20</text>
<line x1="35.25" y1="463.70" x2="38.25" y2="463.70" stroke="#333" stroke-width="0.75"/>
<text x="34.45" y="466.18" font-size="6.9" text-anchor="end" font-weight="normal" fill="#1a1a1a" stroke="#1a1a1a" stroke-width="0.17">30</text>
<line x1="35.25" y1="428.10" x2="38.25" y2="428.10" stroke="#333" stroke-width="0.75"/>
<text x="34.45" y="430.58" font-size="6.9" text-anchor="end" font-weight="normal" fill="#1a1a1a" stroke="#1a1a1a" stroke-width="0.17">40</text>
<line x1="38.25" y1="570.50" x2="110.00" y2="570.50" stroke="#333" stroke-width="0.75"/>
<rect x="44.50" y="456.25" width="24.25" height="114.25" fill="#000" stroke="none" stroke-width="0.8"/>
<line x1="56.60" y1="435.00" x2="56.60" y2="457.00" stroke="#111" stroke-width="1.1"/>
<line x1="50.50" y1="435.00" x2="62.50" y2="435.00" stroke="#111" stroke-width="1.1"/>
<rect x="80.70" y="542.60" width="23.40" height="27.40" fill="url(#hatch)" stroke="#000" stroke-width="1.1"/>
<line x1="92.40" y1="530.00" x2="92.40" y2="542.00" stroke="#111" stroke-width="1.1"/>
<line x1="86.00" y1="530.00" x2="98.80" y2="530.00" stroke="#111" stroke-width="1.1"/>
<text x="92.50" y="530.40" font-size="7.2" text-anchor="middle" font-weight="normal" fill="#1a1a1a" stroke="#1a1a1a" stroke-width="0.17">**</text>
<line x1="56.60" y1="570.50" x2="56.60" y2="572.50" stroke="#333" stroke-width="0.75"/>
<text x="56.60" y="580.00" font-size="6.6000000000000005" text-anchor="middle" font-weight="normal" fill="#1a1a1a" stroke="#1a1a1a" stroke-width="0.17">Non-ET</text>
<line x1="92.50" y1="570.50" x2="92.50" y2="572.50" stroke="#333" stroke-width="0.75"/>
<text x="92.50" y="580.00" font-size="6.6000000000000005" text-anchor="middle" font-weight="normal" fill="#1a1a1a" stroke="#1a1a1a" stroke-width="0.17">ET</text>
<line x1="39.50" y1="586.50" x2="104.70" y2="586.50" stroke="#333" stroke-width="0.8"/>
<text x="73.10" y="597.00" font-size="7.35" text-anchor="middle" font-weight="normal" fill="#1a1a1a" stroke="#1a1a1a" stroke-width="0.17">10 µM SFLLRN</text>
<text x="13.50" y="498.40" font-size="6.9" text-anchor="middle" font-weight="normal" fill="#1a1a1a" stroke="#1a1a1a" stroke-width="0.17" transform="rotate(-90 13.50 498.40)" textLength="94.5" lengthAdjust="spacingAndGlyphs">% Increase in SFLLRN-induced</text>
<text x="24.20" y="499.00" font-size="6.9" text-anchor="middle" font-weight="normal" fill="#1a1a1a" stroke="#1a1a1a" stroke-width="0.17" transform="rotate(-90 24.20 499.00)" textLength="68.5" lengthAdjust="spacingAndGlyphs">fibrinogen binding by TPO</text>
<text x="218.10" y="414.80" font-size="17.6" text-anchor="start" font-weight="bold" fill="#000" stroke="#000" stroke-width="0.3">F</text>
<text x="233.00" y="414.80" font-size="11.4" text-anchor="start" font-weight="normal" fill="#111" stroke="#111" stroke-width="0.25">TPO signalling to JAK2</text>
<text x="317.20" y="438.40" font-size="11.4" text-anchor="middle" font-weight="normal" fill="#111" stroke="#111" stroke-width="0.22">TPO</text>
<line x1="302.50" y1="441.80" x2="331.00" y2="441.80" stroke="#111" stroke-width="1.15"/>
<text x="281.80" y="485.80" font-size="11.4" text-anchor="start" font-weight="normal" fill="#111" transform="rotate(-90 281.80 485.80)" stroke="#111" stroke-width="0.22">Non-ET</text>
<text x="295.80" y="485.80" font-size="11.4" text-anchor="start" font-weight="normal" fill="#111" transform="rotate(-90 295.80 485.80)" stroke="#111" stroke-width="0.22">ET</text>
<text x="312.00" y="485.80" font-size="11.4" text-anchor="start" font-weight="normal" fill="#111" transform="rotate(-90 312.00 485.80)" stroke="#111" stroke-width="0.22">Non-ET</text>
<text x="325.50" y="485.80" font-size="11.4" text-anchor="start" font-weight="normal" fill="#111" transform="rotate(-90 325.50 485.80)" stroke="#111" stroke-width="0.22">ET</text>
<rect x="270.70" y="489.60" width="60.20" height="13.90" fill="#d4d4d4" stroke="none" stroke-width="0.8"/>
<rect x="273.60" y="497.10" width="8" height="2.4" fill="#000" opacity="0.1" filter="url(#blur)"/>
<rect x="290.00" y="496.20" width="8" height="2.2" fill="#000" opacity="0.14" filter="url(#blur)"/>
<rect x="290.00" y="498.30" width="8" height="2.0" fill="#000" opacity="0.12" filter="url(#blur)"/>
<rect x="303.45" y="496.70" width="9.5" height="3.0" fill="#000" opacity="0.78" filter="url(#blur)"/>
<rect x="318.45" y="496.70" width="9.5" height="2.6" fill="#000" opacity="0.6" filter="url(#blur)"/>
<rect x="270.70" y="489.60" width="60.20" height="13.90" fill="none" stroke="#111" stroke-width="1.3"/>
<rect x="270.70" y="503.50" width="60.20" height="12.70" fill="#d4d4d4" stroke="none" stroke-width="0.8"/>
<rect x="276.90" y="509.40" width="8.6" height="2.6" fill="#000" opacity="0.72" filter="url(#blur)"/>
<rect x="291.60" y="509.60" width="8.6" height="2.6" fill="#000" opacity="0.72" filter="url(#blur)"/>
<rect x="304.10" y="509.10" width="9.6" height="3.2" fill="#000" opacity="0.9" filter="url(#blur)"/>
<rect x="317.60" y="508.85" width="9.8" height="3.3" fill="#000" opacity="0.95" filter="url(#blur)"/>
<rect x="270.70" y="503.50" width="60.20" height="12.70" fill="none" stroke="#111" stroke-width="1.3"/>
<rect x="270.70" y="534.20" width="60.20" height="13.20" fill="#dcdcdc" stroke="none" stroke-width="0.8"/>
<rect x="300.80" y="538.30" width="12" height="2.6" fill="#000" opacity="0.68" filter="url(#blur)"/>
<rect x="316.75" y="538.50" width="11.5" height="2.6" fill="#000" opacity="0.66" filter="url(#blur)"/>
<rect x="270.70" y="534.20" width="60.20" height="13.20" fill="none" stroke="#111" stroke-width="1.3"/>
<rect x="270.70" y="547.40" width="60.20" height="12.80" fill="#dadada" stroke="none" stroke-width="0.8"/>
<rect x="272.85" y="553.90" width="9.5" height="2.2" fill="#000" opacity="0.22" filter="url(#blur)"/>
<rect x="288.25" y="553.90" width="9.5" height="2.2" fill="#000" opacity="0.22" filter="url(#blur)"/>
<rect x="303.45" y="553.05" width="9.5" height="2.3" fill="#000" opacity="0.42" filter="url(#blur)"/>
<rect x="317.75" y="553.15" width="9.5" height="2.3" fill="#000" opacity="0.4" filter="url(#blur)"/>
<rect x="270.70" y="547.40" width="60.20" height="12.80" fill="none" stroke="#111" stroke-width="1.3"/>
<text x="227.80" y="502.00" font-size="11.0" text-anchor="start" font-weight="normal" fill="#111" stroke="#111" stroke-width="0.22" textLength="40.2" lengthAdjust="spacingAndGlyphs">pY JAK2</text>
<text x="243.70" y="515.00" font-size="11.0" text-anchor="start" font-weight="normal" fill="#111" stroke="#111" stroke-width="0.22" textLength="24.3" lengthAdjust="spacingAndGlyphs">JAK2</text>
<text x="212.90" y="545.20" font-size="11.3" text-anchor="start" font-weight="normal" fill="#111" stroke="#111" stroke-width="0.22" textLength="39.1" lengthAdjust="spacingAndGlyphs">pSTAT5</text>
<text x="253.20" y="541.00" font-size="6.5" text-anchor="start" font-weight="normal" fill="#111" stroke="#1a1a1a" stroke-width="0.17">Y694</text>
<text x="233.60" y="558.20" font-size="11.3" text-anchor="start" font-weight="normal" fill="#111" stroke="#111" stroke-width="0.22" textLength="33.4" lengthAdjust="spacingAndGlyphs">STAT5</text>
<text x="270.40" y="527.30" font-size="11.4" text-anchor="start" font-weight="normal" fill="#111" stroke="#111" stroke-width="0.22">IP: JAK2</text>
<text x="270.40" y="571.20" font-size="11.4" text-anchor="start" font-weight="normal" fill="#111" stroke="#111" stroke-width="0.22">IP: STAT5</text>
<line x1="360.80" y1="431.70" x2="360.80" y2="567.10" stroke="#333" stroke-width="0.75"/>
<line x1="358.30" y1="567.10" x2="360.80" y2="567.10" stroke="#333" stroke-width="0.75"/>
<text x="357.70" y="569.58" font-size="6.9" text-anchor="end" font-weight="normal" fill="#1a1a1a" stroke="#1a1a1a" stroke-width="0.17">0</text>
<line x1="358.30" y1="533.30" x2="360.80" y2="533.30" stroke="#333" stroke-width="0.75"/>
<text x="357.70" y="535.78" font-size="6.9" text-anchor="end" font-weight="normal" fill="#1a1a1a" stroke="#1a1a1a" stroke-width="0.17">2</text>
<line x1="358.30" y1="499.50" x2="360.80" y2="499.50" stroke="#333" stroke-width="0.75"/>
<text x="357.70" y="501.98" font-size="6.9" text-anchor="end" font-weight="normal" fill="#1a1a1a" stroke="#1a1a1a" stroke-width="0.17">4</text>
<line x1="358.30" y1="465.70" x2="360.80" y2="465.70" stroke="#333" stroke-width="0.75"/>
<text x="357.70" y="468.18" font-size="6.9" text-anchor="end" font-weight="normal" fill="#1a1a1a" stroke="#1a1a1a" stroke-width="0.17">6</text>
<line x1="358.30" y1="431.90" x2="360.80" y2="431.90" stroke="#333" stroke-width="0.75"/>
<text x="357.70" y="434.38" font-size="6.9" text-anchor="end" font-weight="normal" fill="#1a1a1a" stroke="#1a1a1a" stroke-width="0.17">8</text>
<line x1="360.80" y1="567.10" x2="420.40" y2="567.10" stroke="#333" stroke-width="0.75"/>
<rect x="365.20" y="455.60" width="20.60" height="111.50" fill="#000" stroke="none" stroke-width="0.8"/>
<line x1="375.60" y1="433.50" x2="375.60" y2="455.60" stroke="#111" stroke-width="1.05"/>
<line x1="370.80" y1="433.50" x2="380.40" y2="433.50" stroke="#111" stroke-width="1.05"/>
<rect x="395.90" y="475.30" width="19.20" height="91.30" fill="url(#hatch2)" stroke="#000" stroke-width="1.1"/>
<line x1="405.60" y1="445.60" x2="405.60" y2="474.80" stroke="#111" stroke-width="1.05"/>
<line x1="400.80" y1="445.60" x2="410.40" y2="445.60" stroke="#111" stroke-width="1.05"/>
<line x1="375.50" y1="567.10" x2="375.50" y2="569.10" stroke="#333" stroke-width="0.75"/>
<text x="375.50" y="576.10" font-size="6.4" text-anchor="middle" font-weight="normal" fill="#1a1a1a" stroke="#1a1a1a" stroke-width="0.17">Non-ET</text>
<line x1="405.50" y1="567.10" x2="405.50" y2="569.10" stroke="#333" stroke-width="0.75"/>
<text x="405.50" y="576.10" font-size="6.4" text-anchor="middle" font-weight="normal" fill="#1a1a1a" stroke="#1a1a1a" stroke-width="0.17">ET</text>
<line x1="362.70" y1="581.20" x2="418.80" y2="581.20" stroke="#333" stroke-width="0.7"/>
<text x="389.60" y="592.80" font-size="7.2" text-anchor="middle" font-weight="normal" fill="#1a1a1a" stroke="#1a1a1a" stroke-width="0.17">TPO</text>
<text x="348.90" y="499.80" font-size="7.7" text-anchor="middle" font-weight="normal" fill="#1a1a1a" stroke="#1a1a1a" stroke-width="0.17" transform="rotate(-90 348.90 499.80)">Fold increase in pY JAK2</text>
<line x1="455.60" y1="428.00" x2="455.60" y2="566.50" stroke="#333" stroke-width="0.75"/>
<line x1="453.10" y1="566.50" x2="455.60" y2="566.50" stroke="#333" stroke-width="0.75"/>
<text x="452.50" y="568.98" font-size="6.9" text-anchor="end" font-weight="normal" fill="#1a1a1a" stroke="#1a1a1a" stroke-width="0.17">0</text>
<line x1="453.10" y1="552.68" x2="455.60" y2="552.68" stroke="#333" stroke-width="0.75"/>
<text x="452.50" y="555.16" font-size="6.9" text-anchor="end" font-weight="normal" fill="#1a1a1a" stroke="#1a1a1a" stroke-width="0.17">2</text>
<line x1="453.10" y1="538.86" x2="455.60" y2="538.86" stroke="#333" stroke-width="0.75"/>
<text x="452.50" y="541.34" font-size="6.9" text-anchor="end" font-weight="normal" fill="#1a1a1a" stroke="#1a1a1a" stroke-width="0.17">4</text>
<line x1="453.10" y1="525.04" x2="455.60" y2="525.04" stroke="#333" stroke-width="0.75"/>
<text x="452.50" y="527.52" font-size="6.9" text-anchor="end" font-weight="normal" fill="#1a1a1a" stroke="#1a1a1a" stroke-width="0.17">6</text>
<line x1="453.10" y1="511.22" x2="455.60" y2="511.22" stroke="#333" stroke-width="0.75"/>
<text x="452.50" y="513.70" font-size="6.9" text-anchor="end" font-weight="normal" fill="#1a1a1a" stroke="#1a1a1a" stroke-width="0.17">8</text>
<line x1="453.10" y1="497.40" x2="455.60" y2="497.40" stroke="#333" stroke-width="0.75"/>
<text x="452.50" y="499.88" font-size="6.9" text-anchor="end" font-weight="normal" fill="#1a1a1a" stroke="#1a1a1a" stroke-width="0.17">10</text>
<line x1="453.10" y1="483.58" x2="455.60" y2="483.58" stroke="#333" stroke-width="0.75"/>
<text x="452.50" y="486.06" font-size="6.9" text-anchor="end" font-weight="normal" fill="#1a1a1a" stroke="#1a1a1a" stroke-width="0.17">12</text>
<line x1="453.10" y1="469.76" x2="455.60" y2="469.76" stroke="#333" stroke-width="0.75"/>
<text x="452.50" y="472.24" font-size="6.9" text-anchor="end" font-weight="normal" fill="#1a1a1a" stroke="#1a1a1a" stroke-width="0.17">14</text>
<line x1="453.10" y1="455.94" x2="455.60" y2="455.94" stroke="#333" stroke-width="0.75"/>
<text x="452.50" y="458.42" font-size="6.9" text-anchor="end" font-weight="normal" fill="#1a1a1a" stroke="#1a1a1a" stroke-width="0.17">16</text>
<line x1="453.10" y1="442.12" x2="455.60" y2="442.12" stroke="#333" stroke-width="0.75"/>
<text x="452.50" y="444.60" font-size="6.9" text-anchor="end" font-weight="normal" fill="#1a1a1a" stroke="#1a1a1a" stroke-width="0.17">18</text>
<line x1="453.10" y1="428.30" x2="455.60" y2="428.30" stroke="#333" stroke-width="0.75"/>
<text x="452.50" y="430.78" font-size="6.9" text-anchor="end" font-weight="normal" fill="#1a1a1a" stroke="#1a1a1a" stroke-width="0.17">20</text>
<line x1="455.60" y1="566.50" x2="519.00" y2="566.50" stroke="#333" stroke-width="0.75"/>
<rect x="460.40" y="461.30" width="21.10" height="105.20" fill="#000" stroke="none" stroke-width="0.8"/>
<line x1="471.20" y1="438.30" x2="471.20" y2="461.30" stroke="#111" stroke-width="1.05"/>
<line x1="466.20" y1="438.30" x2="476.20" y2="438.30" stroke="#111" stroke-width="1.05"/>
<rect x="492.20" y="481.10" width="20.60" height="84.90" fill="url(#hatch2)" stroke="#000" stroke-width="1.1"/>
<line x1="502.50" y1="459.40" x2="502.50" y2="480.60" stroke="#111" stroke-width="1.05"/>
<line x1="497.50" y1="459.40" x2="507.50" y2="459.40" stroke="#111" stroke-width="1.05"/>
<line x1="471.00" y1="566.50" x2="471.00" y2="568.50" stroke="#333" stroke-width="0.75"/>
<text x="471.00" y="575.50" font-size="6.4" text-anchor="middle" font-weight="normal" fill="#1a1a1a" stroke="#1a1a1a" stroke-width="0.17">Non-ET</text>
<line x1="502.50" y1="566.50" x2="502.50" y2="568.50" stroke="#333" stroke-width="0.75"/>
<text x="502.50" y="575.50" font-size="6.4" text-anchor="middle" font-weight="normal" fill="#1a1a1a" stroke="#1a1a1a" stroke-width="0.17">ET</text>
<line x1="457.50" y1="581.20" x2="513.30" y2="581.20" stroke="#333" stroke-width="0.7"/>
<text x="483.50" y="592.80" font-size="7.2" text-anchor="middle" font-weight="normal" fill="#1a1a1a" stroke="#1a1a1a" stroke-width="0.17">TPO</text>
<text x="440.20" y="497.90" font-size="7.45" text-anchor="middle" font-weight="normal" fill="#1a1a1a" stroke="#1a1a1a" stroke-width="0.17" transform="rotate(-90 440.20 497.90)">Fold increase in pY694 STAT5</text>
<text x="0.60" y="616.00" font-size="17.6" text-anchor="start" font-weight="bold" fill="#000" stroke="#000" stroke-width="0.3">G</text>
<text x="20.00" y="616.00" font-size="11.4" text-anchor="start" font-weight="normal" fill="#111" stroke="#111" stroke-width="0.25">TPO receptor levels</text>
<line x1="43.75" y1="631.00" x2="43.75" y2="781.25" stroke="#333" stroke-width="0.75"/>
<line x1="40.75" y1="781.25" x2="43.75" y2="781.25" stroke="#333" stroke-width="0.75"/>
<text x="39.95" y="784.13" font-size="8.0" text-anchor="end" font-weight="normal" fill="#1a1a1a" stroke="#1a1a1a" stroke-width="0.17">0</text>
<line x1="40.75" y1="756.25" x2="43.75" y2="756.25" stroke="#333" stroke-width="0.75"/>
<text x="39.95" y="759.13" font-size="8.0" text-anchor="end" font-weight="normal" fill="#1a1a1a" stroke="#1a1a1a" stroke-width="0.17">10</text>
<line x1="40.75" y1="731.25" x2="43.75" y2="731.25" stroke="#333" stroke-width="0.75"/>
<text x="39.95" y="734.13" font-size="8.0" text-anchor="end" font-weight="normal" fill="#1a1a1a" stroke="#1a1a1a" stroke-width="0.17">20</text>
<line x1="40.75" y1="706.25" x2="43.75" y2="706.25" stroke="#333" stroke-width="0.75"/>
<text x="39.95" y="709.13" font-size="8.0" text-anchor="end" font-weight="normal" fill="#1a1a1a" stroke="#1a1a1a" stroke-width="0.17">30</text>
<line x1="40.75" y1="681.25" x2="43.75" y2="681.25" stroke="#333" stroke-width="0.75"/>
<text x="39.95" y="684.13" font-size="8.0" text-anchor="end" font-weight="normal" fill="#1a1a1a" stroke="#1a1a1a" stroke-width="0.17">40</text>
<line x1="40.75" y1="656.25" x2="43.75" y2="656.25" stroke="#333" stroke-width="0.75"/>
<text x="39.95" y="659.13" font-size="8.0" text-anchor="end" font-weight="normal" fill="#1a1a1a" stroke="#1a1a1a" stroke-width="0.17">50</text>
<line x1="40.75" y1="631.25" x2="43.75" y2="631.25" stroke="#333" stroke-width="0.75"/>
<text x="39.95" y="634.13" font-size="8.0" text-anchor="end" font-weight="normal" fill="#1a1a1a" stroke="#1a1a1a" stroke-width="0.17">60</text>
<line x1="43.75" y1="781.25" x2="137.00" y2="781.25" stroke="#333" stroke-width="0.75"/>
<line x1="67.00" y1="781.25" x2="67.00" y2="783.75" stroke="#333" stroke-width="0.75"/>
<text x="67.00" y="791.40" font-size="7.7" text-anchor="middle" font-weight="normal" fill="#1a1a1a" stroke="#1a1a1a" stroke-width="0.17">Non-ET</text>
<line x1="113.25" y1="781.25" x2="113.25" y2="783.75" stroke="#333" stroke-width="0.75"/>
<text x="113.25" y="791.40" font-size="7.7" text-anchor="middle" font-weight="normal" fill="#1a1a1a" stroke="#1a1a1a" stroke-width="0.17">ET</text>
<text x="28.20" y="706.00" font-size="8.5" text-anchor="middle" font-weight="normal" fill="#1a1a1a" stroke="#1a1a1a" stroke-width="0.17" transform="rotate(-90 28.20 706.00)">c-Mpl expression (MFI)</text>
<circle cx="67.00" cy="634.50" r="1.85" fill="#000"/>
<circle cx="67.00" cy="676.75" r="1.85" fill="#000"/>
<circle cx="67.00" cy="690.00" r="1.85" fill="#000"/>
<circle cx="60.75" cy="711.25" r="1.85" fill="#000"/>
<circle cx="67.00" cy="715.50" r="1.85" fill="#000"/>
<circle cx="67.00" cy="727.00" r="1.85" fill="#000"/>
<circle cx="67.00" cy="736.25" r="1.85" fill="#000"/>
<circle cx="67.00" cy="765.50" r="1.85" fill="#000"/>
<circle cx="107.50" cy="732.00" r="1.85" fill="#000"/>
<circle cx="113.25" cy="733.50" r="1.85" fill="#000"/>
<circle cx="119.25" cy="743.00" r="1.85" fill="#000"/>
<circle cx="113.25" cy="746.25" r="1.85" fill="#000"/>
<circle cx="107.50" cy="766.75" r="1.85" fill="#000"/>
<circle cx="113.25" cy="768.50" r="1.85" fill="#000"/>
<circle cx="119.25" cy="766.00" r="1.85" fill="#000"/>
<circle cx="113.25" cy="780.50" r="1.85" fill="#000"/>
<line x1="51.25" y1="707.20" x2="83.00" y2="707.20" stroke="#222" stroke-width="1.1"/>
<line x1="98.00" y1="754.70" x2="129.40" y2="754.70" stroke="#222" stroke-width="1.1"/>
<text x="113.25" y="726.80" font-size="9" text-anchor="middle" font-weight="normal" fill="#1a1a1a" stroke="#1a1a1a" stroke-width="0.17">**</text>
<text x="216.10" y="614.50" font-size="17.6" text-anchor="start" font-weight="bold" fill="#000" stroke="#000" stroke-width="0.3">H</text>
<text x="233.75" y="614.50" font-size="11.4" text-anchor="start" font-weight="normal" fill="#111" stroke="#111" stroke-width="0.25">Fibrinogen binding + JAK2i</text>
<line x1="265.50" y1="625.20" x2="265.50" y2="768.00" stroke="#333" stroke-width="0.75"/>
<line x1="262.50" y1="768.00" x2="265.50" y2="768.00" stroke="#333" stroke-width="0.75"/>
<text x="261.00" y="770.30" font-size="6.4" text-anchor="end" font-weight="normal" fill="#1a1a1a" stroke="#1a1a1a" stroke-width="0.17">0</text>
<line x1="262.50" y1="744.25" x2="265.50" y2="744.25" stroke="#333" stroke-width="0.75"/>
<text x="261.00" y="746.55" font-size="6.4" text-anchor="end" font-weight="normal" fill="#1a1a1a" stroke="#1a1a1a" stroke-width="0.17">1000</text>
<line x1="262.50" y1="720.50" x2="265.50" y2="720.50" stroke="#333" stroke-width="0.75"/>
<text x="261.00" y="722.80" font-size="6.4" text-anchor="end" font-weight="normal" fill="#1a1a1a" stroke="#1a1a1a" stroke-width="0.17">2000</text>
<line x1="262.50" y1="696.75" x2="265.50" y2="696.75" stroke="#333" stroke-width="0.75"/>
<text x="261.00" y="699.05" font-size="6.4" text-anchor="end" font-weight="normal" fill="#1a1a1a" stroke="#1a1a1a" stroke-width="0.17">3000</text>
<line x1="262.50" y1="673.00" x2="265.50" y2="673.00" stroke="#333" stroke-width="0.75"/>
<text x="261.00" y="675.30" font-size="6.4" text-anchor="end" font-weight="normal" fill="#1a1a1a" stroke="#1a1a1a" stroke-width="0.17">4000</text>
<line x1="262.50" y1="649.25" x2="265.50" y2="649.25" stroke="#333" stroke-width="0.75"/>
<text x="261.00" y="651.55" font-size="6.4" text-anchor="end" font-weight="normal" fill="#1a1a1a" stroke="#1a1a1a" stroke-width="0.17">5000</text>
<line x1="262.50" y1="625.50" x2="265.50" y2="625.50" stroke="#333" stroke-width="0.75"/>
<text x="261.00" y="627.80" font-size="6.4" text-anchor="end" font-weight="normal" fill="#1a1a1a" stroke="#1a1a1a" stroke-width="0.17">6000</text>
<line x1="265.50" y1="768.00" x2="368.25" y2="768.00" stroke="#333" stroke-width="0.75"/>
<text x="243.30" y="700.30" font-size="7.45" text-anchor="middle" font-weight="normal" fill="#1a1a1a" stroke="#1a1a1a" stroke-width="0.17" transform="rotate(-90 243.30 700.30)">FITC-fibrinogen (MFI)</text>
<rect x="274.50" y="652.00" width="16.70" height="116.00" fill="#000" stroke="none" stroke-width="0.8"/>
<line x1="282.88" y1="635.00" x2="282.88" y2="652.00" stroke="#111" stroke-width="1.05"/>
<line x1="278.75" y1="635.00" x2="287.00" y2="635.00" stroke="#111" stroke-width="1.05"/>
<line x1="282.88" y1="768.00" x2="282.88" y2="770.50" stroke="#333" stroke-width="0.75"/>
<rect x="292.00" y="663.00" width="16.75" height="105.00" fill="#000" stroke="none" stroke-width="0.8"/>
<line x1="300.38" y1="641.25" x2="300.38" y2="663.00" stroke="#111" stroke-width="1.05"/>
<line x1="296.25" y1="641.25" x2="304.50" y2="641.25" stroke="#111" stroke-width="1.05"/>
<line x1="300.38" y1="768.00" x2="300.38" y2="770.50" stroke="#333" stroke-width="0.75"/>
<rect x="326.20" y="714.60" width="15.90" height="52.90" fill="url(#hatch2)" stroke="#000" stroke-width="1.1"/>
<line x1="334.05" y1="694.00" x2="334.05" y2="714.10" stroke="#111" stroke-width="1.05"/>
<line x1="329.70" y1="694.00" x2="338.40" y2="694.00" stroke="#111" stroke-width="1.05"/>
<line x1="334.05" y1="768.00" x2="334.05" y2="770.50" stroke="#333" stroke-width="0.75"/>
<rect x="343.40" y="719.20" width="16.10" height="48.30" fill="url(#hatch2)" stroke="#000" stroke-width="1.1"/>
<line x1="351.50" y1="699.40" x2="351.50" y2="718.70" stroke="#111" stroke-width="1.05"/>
<line x1="347.30" y1="699.40" x2="355.70" y2="699.40" stroke="#111" stroke-width="1.05"/>
<line x1="351.50" y1="768.00" x2="351.50" y2="770.50" stroke="#333" stroke-width="0.75"/>
<text x="284.20" y="776.40" font-size="7.0" text-anchor="end" font-weight="normal" fill="#1a1a1a" stroke="#1a1a1a" stroke-width="0.17" transform="rotate(-45 284.20 776.40)">Vehicle</text>
<text x="301.70" y="776.40" font-size="7.0" text-anchor="end" font-weight="normal" fill="#1a1a1a" stroke="#1a1a1a" stroke-width="0.17" transform="rotate(-45 301.70 776.40)">JAK2i IV</text>
<text x="335.20" y="776.40" font-size="7.0" text-anchor="end" font-weight="normal" fill="#1a1a1a" stroke="#1a1a1a" stroke-width="0.17" transform="rotate(-45 335.20 776.40)">Vehicle</text>
<text x="352.70" y="776.40" font-size="7.0" text-anchor="end" font-weight="normal" fill="#1a1a1a" stroke="#1a1a1a" stroke-width="0.17" transform="rotate(-45 352.70 776.40)">JAK2i IV</text>
<rect x="332.00" y="621.70" width="14.60" height="5.10" fill="#000" stroke="none" stroke-width="0.8"/>
<text x="348.00" y="626.80" font-size="7.0" text-anchor="start" font-weight="normal" fill="#1a1a1a" stroke="#1a1a1a" stroke-width="0.17">Non-ET</text>
<rect x="332.50" y="632.60" width="13.60" height="4.40" fill="url(#hatch2)" stroke="#000" stroke-width="1.0"/>
<text x="348.00" y="637.20" font-size="7.0" text-anchor="start" font-weight="normal" fill="#1a1a1a" stroke="#1a1a1a" stroke-width="0.17">ET</text>
<text x="0.60" y="810.50" font-size="17.6" text-anchor="start" font-weight="bold" fill="#000" stroke="#000" stroke-width="0.3">I</text>
<text x="10.50" y="810.50" font-size="11.4" text-anchor="start" font-weight="normal" fill="#111" stroke="#111" stroke-width="0.25">Fibrinogen binding</text>
<line x1="37.00" y1="824.50" x2="37.00" y2="953.50" stroke="#333" stroke-width="0.75"/>
<line x1="34.00" y1="953.50" x2="37.00" y2="953.50" stroke="#333" stroke-width="0.75"/>
<text x="32.70" y="955.80" font-size="6.4" text-anchor="end" font-weight="normal" fill="#1a1a1a" stroke="#1a1a1a" stroke-width="0.17">0</text>
<line x1="34.00" y1="939.20" x2="37.00" y2="939.20" stroke="#333" stroke-width="0.75"/>
<text x="32.70" y="941.50" font-size="6.4" text-anchor="end" font-weight="normal" fill="#1a1a1a" stroke="#1a1a1a" stroke-width="0.17">1000</text>
<line x1="34.00" y1="924.90" x2="37.00" y2="924.90" stroke="#333" stroke-width="0.75"/>
<text x="32.70" y="927.20" font-size="6.4" text-anchor="end" font-weight="normal" fill="#1a1a1a" stroke="#1a1a1a" stroke-width="0.17">2000</text>
<line x1="34.00" y1="910.60" x2="37.00" y2="910.60" stroke="#333" stroke-width="0.75"/>
<text x="32.70" y="912.90" font-size="6.4" text-anchor="end" font-weight="normal" fill="#1a1a1a" stroke="#1a1a1a" stroke-width="0.17">3000</text>
<line x1="34.00" y1="896.30" x2="37.00" y2="896.30" stroke="#333" stroke-width="0.75"/>
<text x="32.70" y="898.60" font-size="6.4" text-anchor="end" font-weight="normal" fill="#1a1a1a" stroke="#1a1a1a" stroke-width="0.17">4000</text>
<line x1="34.00" y1="882.00" x2="37.00" y2="882.00" stroke="#333" stroke-width="0.75"/>
<text x="32.70" y="884.30" font-size="6.4" text-anchor="end" font-weight="normal" fill="#1a1a1a" stroke="#1a1a1a" stroke-width="0.17">5000</text>
<line x1="34.00" y1="867.70" x2="37.00" y2="867.70" stroke="#333" stroke-width="0.75"/>
<text x="32.70" y="870.00" font-size="6.4" text-anchor="end" font-weight="normal" fill="#1a1a1a" stroke="#1a1a1a" stroke-width="0.17">6000</text>
<line x1="34.00" y1="853.40" x2="37.00" y2="853.40" stroke="#333" stroke-width="0.75"/>
<text x="32.70" y="855.70" font-size="6.4" text-anchor="end" font-weight="normal" fill="#1a1a1a" stroke="#1a1a1a" stroke-width="0.17">7000</text>
<line x1="34.00" y1="839.10" x2="37.00" y2="839.10" stroke="#333" stroke-width="0.75"/>
<text x="32.70" y="841.40" font-size="6.4" text-anchor="end" font-weight="normal" fill="#1a1a1a" stroke="#1a1a1a" stroke-width="0.17">8000</text>
<line x1="34.00" y1="824.80" x2="37.00" y2="824.80" stroke="#333" stroke-width="0.75"/>
<text x="32.70" y="827.10" font-size="6.4" text-anchor="end" font-weight="normal" fill="#1a1a1a" stroke="#1a1a1a" stroke-width="0.17">9000</text>
<line x1="46.75" y1="963.00" x2="143.55" y2="963.00" stroke="#333" stroke-width="0.75"/>
<line x1="46.75" y1="963.00" x2="46.75" y2="965.50" stroke="#333" stroke-width="0.75"/>
<text x="46.75" y="973.30" font-size="6.4" text-anchor="middle" font-weight="normal" fill="#1a1a1a" stroke="#1a1a1a" stroke-width="0.17">-7.0</text>
<line x1="70.95" y1="963.00" x2="70.95" y2="965.50" stroke="#333" stroke-width="0.75"/>
<text x="70.95" y="973.30" font-size="6.4" text-anchor="middle" font-weight="normal" fill="#1a1a1a" stroke="#1a1a1a" stroke-width="0.17">-6.5</text>
<line x1="95.15" y1="963.00" x2="95.15" y2="965.50" stroke="#333" stroke-width="0.75"/>
<text x="95.15" y="973.30" font-size="6.4" text-anchor="middle" font-weight="normal" fill="#1a1a1a" stroke="#1a1a1a" stroke-width="0.17">-6.0</text>
<line x1="119.35" y1="963.00" x2="119.35" y2="965.50" stroke="#333" stroke-width="0.75"/>
<text x="119.35" y="973.30" font-size="6.4" text-anchor="middle" font-weight="normal" fill="#1a1a1a" stroke="#1a1a1a" stroke-width="0.17">-5.5</text>
<line x1="143.55" y1="963.00" x2="143.55" y2="965.50" stroke="#333" stroke-width="0.75"/>
<text x="143.55" y="973.30" font-size="6.4" text-anchor="middle" font-weight="normal" fill="#1a1a1a" stroke="#1a1a1a" stroke-width="0.17">-5.0</text>
<text x="95.60" y="982.40" font-size="7.3" text-anchor="middle" font-weight="normal" fill="#1a1a1a" stroke="#1a1a1a" stroke-width="0.17">LOG[SFLLRN]M</text>
<text x="101.00" y="992.70" font-size="7.5" text-anchor="middle" font-weight="normal" fill="#1a1a1a" stroke="#1a1a1a" stroke-width="0.17">P&lt;0.0001</text>
<text x="15.20" y="889.00" font-size="7.7" text-anchor="middle" font-weight="normal" fill="#1a1a1a" stroke="#1a1a1a" stroke-width="0.17" transform="rotate(-90 15.20 889.00)">FITC-fibrinogen (MFI)</text>
<path d="M65.75,952.23 L67.74,952.01 L69.72,951.74 L71.71,951.41 L73.70,951.00 L75.69,950.51 L77.67,949.91 L79.66,949.18 L81.65,948.30 L83.63,947.25 L85.62,945.98 L87.61,944.46 L89.60,942.65 L91.58,940.52 L93.57,938.02 L95.56,935.12 L97.54,931.78 L99.53,927.99 L101.52,923.75 L103.51,919.06 L105.49,913.98 L107.48,908.56 L109.47,902.89 L111.46,897.09 L113.44,891.27 L115.43,885.54 L117.42,880.04 L119.40,874.83 L121.39,870.01 L123.38,865.62 L125.37,861.69 L127.35,858.21 L129.34,855.17 L131.33,852.55 L133.31,850.30 L135.30,848.39 L137.29,846.79 L139.28,845.44 L141.26,844.32 L143.25,843.39" fill="none" stroke="#000" stroke-width="1.25" stroke-linejoin="round"/>
<path d="M65.75,953.46 L67.74,953.44 L69.72,953.41 L71.71,953.38 L73.70,953.34 L75.69,953.28 L77.67,953.21 L79.66,953.12 L81.65,953.00 L83.63,952.85 L85.62,952.65 L87.61,952.40 L89.60,952.08 L91.58,951.66 L93.57,951.14 L95.56,950.47 L97.54,949.63 L99.53,948.58 L101.52,947.28 L103.51,945.70 L105.49,943.79 L107.48,941.53 L109.47,938.90 L111.46,935.94 L113.44,932.68 L115.43,929.19 L117.42,925.58 L119.40,921.97 L121.39,918.48 L123.38,915.20 L125.37,912.22 L127.35,909.58 L129.34,907.30 L131.33,905.37 L133.31,903.77 L135.30,902.46 L137.29,901.40 L139.28,900.55 L141.26,899.87 L143.25,899.34" fill="none" stroke="#000" stroke-width="1.25" stroke-linejoin="round"/>
<line x1="109.25" y1="935.50" x2="109.25" y2="940.25" stroke="#111" stroke-width="1.0"/>
<line x1="106.95" y1="935.50" x2="111.55" y2="935.50" stroke="#111" stroke-width="1.0"/>
<line x1="117.50" y1="913.00" x2="117.50" y2="923.50" stroke="#111" stroke-width="1.0"/>
<line x1="115.20" y1="913.00" x2="119.80" y2="913.00" stroke="#111" stroke-width="1.0"/>
<line x1="128.75" y1="897.25" x2="128.75" y2="909.75" stroke="#111" stroke-width="1.0"/>
<line x1="126.45" y1="897.25" x2="131.05" y2="897.25" stroke="#111" stroke-width="1.0"/>
<line x1="143.25" y1="886.75" x2="143.25" y2="898.50" stroke="#111" stroke-width="1.0"/>
<line x1="140.95" y1="886.75" x2="145.55" y2="886.75" stroke="#111" stroke-width="1.0"/>
<line x1="95.00" y1="914.00" x2="95.00" y2="931.75" stroke="#111" stroke-width="1.0"/>
<line x1="92.70" y1="914.00" x2="97.30" y2="914.00" stroke="#111" stroke-width="1.0"/>
<line x1="109.25" y1="885.50" x2="109.25" y2="908.50" stroke="#111" stroke-width="1.0"/>
<line x1="106.95" y1="885.50" x2="111.55" y2="885.50" stroke="#111" stroke-width="1.0"/>
<line x1="117.50" y1="857.75" x2="117.50" y2="876.75" stroke="#111" stroke-width="1.0"/>
<line x1="115.20" y1="857.75" x2="119.80" y2="857.75" stroke="#111" stroke-width="1.0"/>
<line x1="128.75" y1="839.75" x2="128.75" y2="855.50" stroke="#111" stroke-width="1.0"/>
<line x1="126.45" y1="839.75" x2="131.05" y2="839.75" stroke="#111" stroke-width="1.0"/>
<line x1="143.25" y1="831.50" x2="143.25" y2="844.25" stroke="#111" stroke-width="1.0"/>
<line x1="140.95" y1="831.50" x2="145.55" y2="831.50" stroke="#111" stroke-width="1.0"/>
<rect x="64.25" y="951.40" width="3.00" height="3.00" fill="#fff" stroke="#000" stroke-width="0.8"/>
<rect x="78.50" y="951.25" width="3.00" height="3.00" fill="#fff" stroke="#000" stroke-width="0.8"/>
<rect x="93.50" y="950.00" width="3.00" height="3.00" fill="#fff" stroke="#000" stroke-width="0.8"/>
<rect x="107.75" y="938.75" width="3.00" height="3.00" fill="#fff" stroke="#000" stroke-width="0.8"/>
<rect x="116.00" y="922.00" width="3.00" height="3.00" fill="#fff" stroke="#000" stroke-width="0.8"/>
<rect x="127.25" y="908.25" width="3.00" height="3.00" fill="#fff" stroke="#000" stroke-width="0.8"/>
<rect x="141.75" y="897.00" width="3.00" height="3.00" fill="#fff" stroke="#000" stroke-width="0.8"/>
<rect x="64.05" y="951.05" width="3.40" height="3.40" fill="#000" stroke="none" stroke-width="0.8"/>
<rect x="78.30" y="948.80" width="3.40" height="3.40" fill="#000" stroke="none" stroke-width="0.8"/>
<rect x="93.30" y="930.05" width="3.40" height="3.40" fill="#000" stroke="none" stroke-width="0.8"/>
<rect x="107.55" y="906.80" width="3.40" height="3.40" fill="#000" stroke="none" stroke-width="0.8"/>
<rect x="115.80" y="875.05" width="3.40" height="3.40" fill="#000" stroke="none" stroke-width="0.8"/>
<rect x="127.05" y="853.80" width="3.40" height="3.40" fill="#000" stroke="none" stroke-width="0.8"/>
<rect x="141.55" y="842.55" width="3.40" height="3.40" fill="#000" stroke="none" stroke-width="0.8"/>
<rect x="39.75" y="825.50" width="3.00" height="3.00" fill="#000" stroke="none" stroke-width="0.8"/>
<text x="50.00" y="829.50" font-size="7.3" text-anchor="start" font-weight="normal" fill="#1a1a1a" stroke="#1a1a1a" stroke-width="0.17">Non-ET</text>
<rect x="39.80" y="835.55" width="2.90" height="2.90" fill="#fff" stroke="#000" stroke-width="0.8"/>
<text x="50.00" y="839.50" font-size="7.3" text-anchor="start" font-weight="normal" fill="#1a1a1a" stroke="#1a1a1a" stroke-width="0.17">ET JAK2 Negative</text>
<text x="216.60" y="811.40" font-size="17.6" text-anchor="start" font-weight="bold" fill="#000" stroke="#000" stroke-width="0.3">J</text>
<text x="230.50" y="811.40" font-size="11.4" text-anchor="start" font-weight="normal" fill="#111" stroke="#111" stroke-width="0.25">P-selectin expression</text>
<line x1="253.00" y1="825.00" x2="253.00" y2="955.25" stroke="#333" stroke-width="0.75"/>
<line x1="250.00" y1="955.25" x2="253.00" y2="955.25" stroke="#333" stroke-width="0.75"/>
<text x="249.20" y="957.55" font-size="6.4" text-anchor="end" font-weight="normal" fill="#1a1a1a" stroke="#1a1a1a" stroke-width="0.17">0</text>
<line x1="250.00" y1="940.80" x2="253.00" y2="940.80" stroke="#333" stroke-width="0.75"/>
<text x="249.20" y="943.10" font-size="6.4" text-anchor="end" font-weight="normal" fill="#1a1a1a" stroke="#1a1a1a" stroke-width="0.17">250</text>
<line x1="250.00" y1="926.35" x2="253.00" y2="926.35" stroke="#333" stroke-width="0.75"/>
<text x="249.20" y="928.65" font-size="6.4" text-anchor="end" font-weight="normal" fill="#1a1a1a" stroke="#1a1a1a" stroke-width="0.17">500</text>
<line x1="250.00" y1="911.90" x2="253.00" y2="911.90" stroke="#333" stroke-width="0.75"/>
<text x="249.20" y="914.20" font-size="6.4" text-anchor="end" font-weight="normal" fill="#1a1a1a" stroke="#1a1a1a" stroke-width="0.17">750</text>
<line x1="250.00" y1="897.45" x2="253.00" y2="897.45" stroke="#333" stroke-width="0.75"/>
<text x="249.20" y="899.75" font-size="6.4" text-anchor="end" font-weight="normal" fill="#1a1a1a" stroke="#1a1a1a" stroke-width="0.17">1000</text>
<line x1="250.00" y1="883.00" x2="253.00" y2="883.00" stroke="#333" stroke-width="0.75"/>
<text x="249.20" y="885.30" font-size="6.4" text-anchor="end" font-weight="normal" fill="#1a1a1a" stroke="#1a1a1a" stroke-width="0.17">1250</text>
<line x1="250.00" y1="868.55" x2="253.00" y2="868.55" stroke="#333" stroke-width="0.75"/>
<text x="249.20" y="870.85" font-size="6.4" text-anchor="end" font-weight="normal" fill="#1a1a1a" stroke="#1a1a1a" stroke-width="0.17">1500</text>
<line x1="250.00" y1="854.10" x2="253.00" y2="854.10" stroke="#333" stroke-width="0.75"/>
<text x="249.20" y="856.40" font-size="6.4" text-anchor="end" font-weight="normal" fill="#1a1a1a" stroke="#1a1a1a" stroke-width="0.17">1750</text>
<line x1="250.00" y1="839.65" x2="253.00" y2="839.65" stroke="#333" stroke-width="0.75"/>
<text x="249.20" y="841.95" font-size="6.4" text-anchor="end" font-weight="normal" fill="#1a1a1a" stroke="#1a1a1a" stroke-width="0.17">2000</text>
<line x1="250.00" y1="825.20" x2="253.00" y2="825.20" stroke="#333" stroke-width="0.75"/>
<text x="249.20" y="827.50" font-size="6.4" text-anchor="end" font-weight="normal" fill="#1a1a1a" stroke="#1a1a1a" stroke-width="0.17">2250</text>
<line x1="262.50" y1="965.60" x2="360.10" y2="965.60" stroke="#333" stroke-width="0.75"/>
<line x1="262.50" y1="965.60" x2="262.50" y2="968.10" stroke="#333" stroke-width="0.75"/>
<text x="262.50" y="975.30" font-size="6.4" text-anchor="middle" font-weight="normal" fill="#1a1a1a" stroke="#1a1a1a" stroke-width="0.17">-7.0</text>
<line x1="286.90" y1="965.60" x2="286.90" y2="968.10" stroke="#333" stroke-width="0.75"/>
<text x="286.90" y="975.30" font-size="6.4" text-anchor="middle" font-weight="normal" fill="#1a1a1a" stroke="#1a1a1a" stroke-width="0.17">-6.5</text>
<line x1="311.30" y1="965.60" x2="311.30" y2="968.10" stroke="#333" stroke-width="0.75"/>
<text x="311.30" y="975.30" font-size="6.4" text-anchor="middle" font-weight="normal" fill="#1a1a1a" stroke="#1a1a1a" stroke-width="0.17">-6.0</text>
<line x1="335.70" y1="965.60" x2="335.70" y2="968.10" stroke="#333" stroke-width="0.75"/>
<text x="335.70" y="975.30" font-size="6.4" text-anchor="middle" font-weight="normal" fill="#1a1a1a" stroke="#1a1a1a" stroke-width="0.17">-5.5</text>
<line x1="360.10" y1="965.60" x2="360.10" y2="968.10" stroke="#333" stroke-width="0.75"/>
<text x="360.10" y="975.30" font-size="6.4" text-anchor="middle" font-weight="normal" fill="#1a1a1a" stroke="#1a1a1a" stroke-width="0.17">-5.0</text>
<text x="312.10" y="985.30" font-size="7.3" text-anchor="middle" font-weight="normal" fill="#1a1a1a" stroke="#1a1a1a" stroke-width="0.17">LOG[SFLLRN]M</text>
<text x="230.00" y="890.00" font-size="7.7" text-anchor="middle" font-weight="normal" fill="#1a1a1a" stroke="#1a1a1a" stroke-width="0.17" transform="rotate(-90 230.00 890.00)">P-selectin (CD62P)expression (MFI)</text>
<path d="M282.00,955.52 L284.01,955.50 L286.03,955.48 L288.04,955.46 L290.05,955.42 L292.06,955.38 L294.08,955.32 L296.09,955.25 L298.10,955.16 L300.12,955.03 L302.13,954.88 L304.14,954.67 L306.15,954.41 L308.17,954.07 L310.18,953.63 L312.19,953.07 L314.21,952.35 L316.22,951.44 L318.23,950.27 L320.24,948.81 L322.26,946.97 L324.27,944.68 L326.28,941.89 L328.29,938.51 L330.31,934.50 L332.32,929.83 L334.33,924.54 L336.35,918.70 L338.36,912.44 L340.37,905.94 L342.38,899.42 L344.40,893.10 L346.41,887.16 L348.42,881.75 L350.44,876.96 L352.45,872.83 L354.46,869.33 L356.47,866.42 L358.49,864.05 L360.50,862.13" fill="none" stroke="#000" stroke-width="1.25" stroke-linejoin="round"/>
<path d="M282.00,955.54 L284.01,955.53 L286.03,955.51 L288.04,955.48 L290.05,955.45 L292.06,955.41 L294.08,955.36 L296.09,955.29 L298.10,955.21 L300.12,955.10 L302.13,954.96 L304.14,954.78 L306.15,954.56 L308.17,954.27 L310.18,953.90 L312.19,953.42 L314.21,952.83 L316.22,952.07 L318.23,951.12 L320.24,949.92 L322.26,948.43 L324.27,946.58 L326.28,944.30 L328.29,941.54 L330.31,938.23 L332.32,934.31 L334.33,929.78 L336.35,924.64 L338.36,918.95 L340.37,912.82 L342.38,906.40 L344.40,899.88 L346.41,893.47 L348.42,887.34 L350.44,881.65 L352.45,876.51 L354.46,871.97 L356.47,868.06 L358.49,864.75 L360.50,861.99" fill="none" stroke="#000" stroke-width="1.25" stroke-linejoin="round"/>
<line x1="326.00" y1="934.00" x2="326.00" y2="944.25" stroke="#111" stroke-width="1.0"/>
<line x1="323.70" y1="934.00" x2="328.30" y2="934.00" stroke="#111" stroke-width="1.0"/>
<line x1="335.00" y1="907.75" x2="335.00" y2="920.50" stroke="#111" stroke-width="1.0"/>
<line x1="332.70" y1="907.75" x2="337.30" y2="907.75" stroke="#111" stroke-width="1.0"/>
<line x1="345.75" y1="877.25" x2="345.75" y2="890.25" stroke="#111" stroke-width="1.0"/>
<line x1="343.45" y1="877.25" x2="348.05" y2="877.25" stroke="#111" stroke-width="1.0"/>
<line x1="360.50" y1="849.00" x2="360.50" y2="861.75" stroke="#111" stroke-width="1.0"/>
<line x1="358.20" y1="849.00" x2="362.80" y2="849.00" stroke="#111" stroke-width="1.0"/>
<rect x="280.50" y="953.30" width="3.00" height="3.00" fill="#fff" stroke="#000" stroke-width="0.8"/>
<rect x="295.25" y="953.30" width="3.00" height="3.00" fill="#fff" stroke="#000" stroke-width="0.8"/>
<rect x="309.75" y="952.70" width="3.00" height="3.00" fill="#fff" stroke="#000" stroke-width="0.8"/>
<rect x="324.50" y="945.25" width="3.00" height="3.00" fill="#fff" stroke="#000" stroke-width="0.8"/>
<rect x="333.50" y="924.50" width="3.00" height="3.00" fill="#fff" stroke="#000" stroke-width="0.8"/>
<rect x="344.25" y="895.00" width="3.00" height="3.00" fill="#fff" stroke="#000" stroke-width="0.8"/>
<rect x="359.00" y="860.25" width="3.00" height="3.00" fill="#fff" stroke="#000" stroke-width="0.8"/>
<rect x="280.30" y="953.05" width="3.40" height="3.40" fill="#000" stroke="none" stroke-width="0.8"/>
<rect x="295.05" y="953.05" width="3.40" height="3.40" fill="#000" stroke="none" stroke-width="0.8"/>
<rect x="309.55" y="952.30" width="3.40" height="3.40" fill="#000" stroke="none" stroke-width="0.8"/>
<rect x="324.30" y="942.55" width="3.40" height="3.40" fill="#000" stroke="none" stroke-width="0.8"/>
<rect x="333.30" y="918.80" width="3.40" height="3.40" fill="#000" stroke="none" stroke-width="0.8"/>
<rect x="344.05" y="888.55" width="3.40" height="3.40" fill="#000" stroke="none" stroke-width="0.8"/>
<rect x="358.80" y="860.05" width="3.40" height="3.40" fill="#000" stroke="none" stroke-width="0.8"/>
<rect x="255.50" y="825.25" width="3.00" height="3.00" fill="#000" stroke="none" stroke-width="0.8"/>
<text x="265.75" y="829.25" font-size="7.3" text-anchor="start" font-weight="normal" fill="#1a1a1a" stroke="#1a1a1a" stroke-width="0.17">Non-ET</text>
<rect x="255.55" y="835.55" width="2.90" height="2.90" fill="#fff" stroke="#000" stroke-width="0.8"/>
<text x="265.75" y="839.50" font-size="7.3" text-anchor="start" font-weight="normal" fill="#1a1a1a" stroke="#1a1a1a" stroke-width="0.17">ET JAK2 Negative</text>
</svg>
</body></html>
